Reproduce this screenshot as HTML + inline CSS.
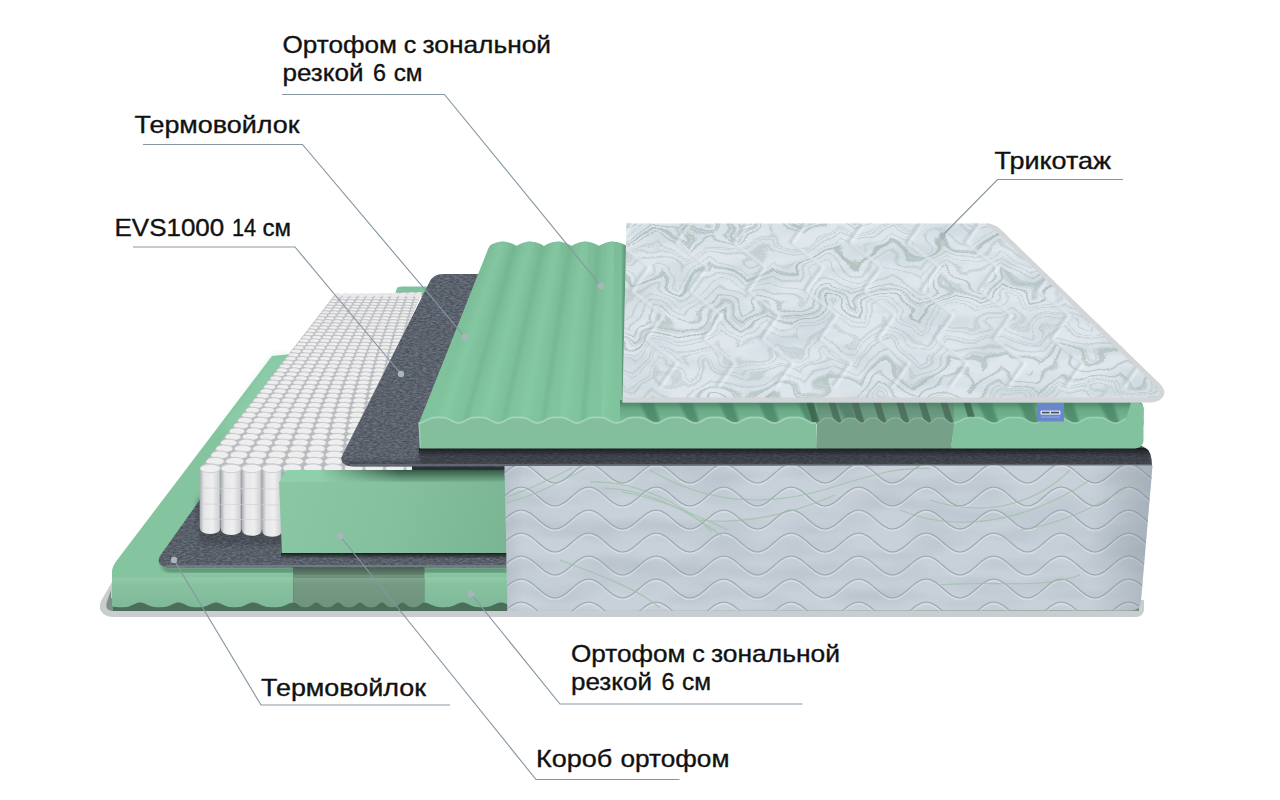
<!DOCTYPE html>
<html lang="ru"><head><meta charset="utf-8"><title>Матрас — состав</title>
<style>
html,body{margin:0;padding:0;background:#fff;}
body{width:1280px;height:800px;overflow:hidden;font-family:"Liberation Sans",sans-serif;}
svg{display:block;}
text{font-family:"Liberation Sans",sans-serif;fill:#111;}
</style></head><body>
<svg width="1280" height="800" viewBox="0 0 1280 800">
<defs>
<filter id="noise" color-interpolation-filters="sRGB" x="0" y="0" width="100%" height="100%">
  <feTurbulence type="fractalNoise" baseFrequency="0.3 0.75" numOctaves="3" seed="4"/>
  <feColorMatrix type="matrix" values="0 0 0 0 0.12  0 0 0 0 0.14  0 0 0 0 0.17  2.2 0 0 0 -0.75"/>
  <feComposite in2="SourceGraphic" operator="in"/>
</filter>
<filter id="noiseL" color-interpolation-filters="sRGB" x="0" y="0" width="100%" height="100%">
  <feTurbulence type="fractalNoise" baseFrequency="0.22 0.6" numOctaves="3" seed="21"/>
  <feColorMatrix type="matrix" values="0 0 0 0 0.62  0 0 0 0 0.66  0 0 0 0 0.71  2.4 0 0 0 -0.95"/>
  <feComposite in2="SourceGraphic" operator="in"/>
</filter>
<filter id="grain" color-interpolation-filters="sRGB" x="0" y="0" width="100%" height="100%">
  <feTurbulence type="fractalNoise" baseFrequency="0.9" numOctaves="2" seed="9"/>
  <feColorMatrix type="matrix" values="0 0 0 0 1  0 0 0 0 1  0 0 0 0 1  1.2 0 0 0 -0.5"/>
  <feComposite in2="SourceGraphic" operator="in"/>
</filter>
<filter id="fKnitA" color-interpolation-filters="sRGB" x="0" y="0" width="100%" height="100%">
  <feTurbulence type="fractalNoise" baseFrequency="0.018 0.045" numOctaves="3" seed="11"/>
  <feColorMatrix type="matrix" values="0 0 0 0 0.68  0 0 0 0 0.75  0 0 0 0 0.77  2.6 0 0 0 -1.0"/>
  <feComposite in2="SourceGraphic" operator="in"/>
</filter>
<filter id="fKnitB" x="-5%" y="-20%" width="110%" height="140%">
  <feTurbulence type="fractalNoise" baseFrequency="0.02 0.035" numOctaves="2" seed="7" result="t"/>
  <feDisplacementMap in="SourceGraphic" in2="t" scale="42" xChannelSelector="R" yChannelSelector="G"/><feGaussianBlur stdDeviation="0.55"/>
</filter>
<filter id="fSideA" color-interpolation-filters="sRGB" x="0" y="0" width="100%" height="100%">
  <feTurbulence type="fractalNoise" baseFrequency="0.012 0.05" numOctaves="2" seed="3"/>
  <feColorMatrix type="matrix" values="0 0 0 0 0.55  0 0 0 0 0.6  0 0 0 0 0.66  2.4 0 0 0 -0.95"/>
  <feComposite in2="SourceGraphic" operator="in"/>
</filter>
<filter id="b05"><feGaussianBlur stdDeviation="0.5"/></filter>
<filter id="b1"><feGaussianBlur stdDeviation="1"/></filter>
<filter id="b2"><feGaussianBlur stdDeviation="2.2"/></filter>
<filter id="b3"><feGaussianBlur stdDeviation="3.5"/></filter>
<linearGradient id="gFront1" x1="0" y1="577" x2="0" y2="607" gradientUnits="userSpaceOnUse">
  <stop offset="0" stop-color="#93cbab"/><stop offset=".25" stop-color="#87c2a0"/><stop offset="1" stop-color="#80b999"/>
</linearGradient>
<linearGradient id="gFrontD" x1="0" y1="577" x2="0" y2="607" gradientUnits="userSpaceOnUse">
  <stop offset="0" stop-color="#83a892"/><stop offset=".25" stop-color="#759a84"/><stop offset="1" stop-color="#6f937d"/>
</linearGradient>
<linearGradient id="gSliver" x1="0" y1="567" x2="0" y2="578" gradientUnits="userSpaceOnUse">
  <stop offset="0" stop-color="#27392f" stop-opacity=".6"/><stop offset="1" stop-color="#27392f" stop-opacity="0"/>
</linearGradient>
<linearGradient id="gBoxTopSh" x1="0" y1="470" x2="0" y2="483" gradientUnits="userSpaceOnUse">
  <stop offset="0" stop-color="#1f3a2b" stop-opacity=".8"/><stop offset="1" stop-color="#1f3a2b" stop-opacity=".15"/>
</linearGradient>
<linearGradient id="gBoxTopShX" x1="285" y1="0" x2="400" y2="0" gradientUnits="userSpaceOnUse">
  <stop offset="0" stop-color="#fff" stop-opacity="0"/><stop offset=".3" stop-color="#fff" stop-opacity=".0"/><stop offset="1" stop-color="#fff" stop-opacity="1"/>
</linearGradient>
<mask id="mBoxTop"><rect x="270" y="460" width="250" height="30" fill="url(#gBoxTopShX)"/></mask>
<linearGradient id="gSideR" x1="504" y1="0" x2="1153" y2="0" gradientUnits="userSpaceOnUse">
  <stop offset="0" stop-color="#6c7883" stop-opacity=".14"/><stop offset=".03" stop-color="#6c7883" stop-opacity="0"/><stop offset=".9" stop-color="#6c7883" stop-opacity="0"/><stop offset="1" stop-color="#6c7883" stop-opacity=".32"/>
</linearGradient>
<linearGradient id="gCol" x1="0" y1="0" x2="1" y2="0">
  <stop offset="0" stop-color="#a9abaf"/><stop offset=".2" stop-color="#e6e6e8"/><stop offset=".6" stop-color="#efeff0"/><stop offset=".9" stop-color="#d2d3d6"/><stop offset="1" stop-color="#9d9fa3"/>
</linearGradient>
<linearGradient id="gBox" x1="282" y1="483" x2="505" y2="553" gradientUnits="userSpaceOnUse">
  <stop offset="0" stop-color="#8ac7a5"/><stop offset=".5" stop-color="#84c09e"/><stop offset="1" stop-color="#79b493"/>
</linearGradient>
<linearGradient id="gFeltSh" x1="0" y1="0" x2="0" y2="1">
  <stop offset="0" stop-color="#15181b" stop-opacity=".95"/><stop offset="1" stop-color="#15181b" stop-opacity="0"/>
</linearGradient>
<linearGradient id="gGroove" x1="0" y1="402" x2="0" y2="424" gradientUnits="userSpaceOnUse">
  <stop offset="0" stop-color="#4a8868"/><stop offset=".35" stop-color="#69a987"/><stop offset="1" stop-color="#7bbd9a"/>
</linearGradient>
<linearGradient id="gTopFace" x1="0" y1="245" x2="0" y2="424" gradientUnits="userSpaceOnUse">
  <stop offset="0" stop-color="#7cbd98"/><stop offset="1" stop-color="#80c49e"/>
</linearGradient>
<pattern id="pWave" width="67.5" height="23.0" patternUnits="userSpaceOnUse" patternTransform="translate(521.2,462.0)">
  <path d="M-33.8,22.6 C-21.5,22.6 -12.3,3.6 0.0,3.6 C12.3,3.6 21.5,22.6 33.8,22.6 C46.0,22.6 55.2,3.6 67.5,3.6 C79.8,3.6 89.0,22.6 101.2,22.6 " fill="none" stroke="#d9e0e6" stroke-width="1.6" opacity=".75"/>
  <path d="M-33.8,21.0 C-21.5,21.0 -12.3,2.0 0.0,2.0 C12.3,2.0 21.5,21.0 33.8,21.0 C46.0,21.0 55.2,2.0 67.5,2.0 C79.8,2.0 89.0,21.0 101.2,21.0 " fill="none" stroke="#9aa5ae" stroke-width="1.2"/>
</pattern>
<clipPath id="cSpr"><polygon points="334,295 422,292 346,460 418,460 418,472 200,472 200,469"/></clipPath>
<clipPath id="cFelt2"><path d="M443,274 L492,274 L492,448 L1138,445 Q1150,447 1151.5,459 L1152,466.5 L352,466.5 Q337,464.5 343,454 L429.5,282 Q433.5,274 443,274 Z"/></clipPath>
<clipPath id="cKnit"><path d="M626.5,223.5 L986,223.5 Q994,223.5 1000,229 L1160,384 Q1167.5,392 1162,398 Q1158,402.5 1148,402.5 L622.5,402.5 Z"/></clipPath>
<clipPath id="cSide"><path d="M504.5,466 L1152.5,465.5 L1141,601 Q1140,610.5 1131,610.5 L507.5,611 Z"/></clipPath>
<clipPath id="cTopFace"><polygon points="418.5,424.0 488.5,248.0 490.0,245.4 491.5,244.5 493.0,243.8 494.5,243.2 496.0,242.7 497.5,242.3 499.0,241.9 500.5,241.7 502.0,241.6 503.5,241.6 505.0,241.7 506.5,241.9 508.0,242.3 509.5,242.7 511.0,243.2 512.5,243.8 514.0,244.5 515.5,245.4 517.0,245.7 518.5,244.8 520.0,244.0 521.5,243.4 523.0,242.8 524.5,242.4 526.0,242.0 527.5,241.8 529.0,241.6 530.5,241.6 532.0,241.7 533.5,241.9 535.0,242.1 536.5,242.5 538.0,243.0 539.5,243.6 541.0,244.3 542.5,245.1 544.0,246.2 545.5,245.1 547.0,244.3 548.5,243.6 550.0,243.0 551.5,242.5 553.0,242.1 554.5,241.9 556.0,241.7 557.5,241.6 559.0,241.6 560.5,241.8 562.0,242.0 563.5,242.4 565.0,242.8 566.5,243.4 568.0,244.0 569.5,244.8 571.0,245.7 572.5,245.4 574.0,244.5 575.5,243.8 577.0,243.2 578.5,242.7 580.0,242.3 581.5,241.9 583.0,241.7 584.5,241.6 586.0,241.6 587.5,241.7 589.0,241.9 590.5,242.3 592.0,242.7 593.5,243.2 595.0,243.8 596.5,244.5 598.0,245.4 599.5,245.7 601.0,244.8 602.5,244.0 604.0,243.4 605.5,242.8 607.0,242.4 608.5,242.0 610.0,241.8 611.5,241.6 613.0,241.6 614.5,241.7 616.0,241.9 617.5,242.1 619.0,242.5 620.5,243.0 622.0,243.6 623.5,244.3 625.0,245.1 627.0,247.0 627.0,424.0"/></clipPath>
<clipPath id="cGroove"><path d="M620,400 L1138,400 Q1143.5,403 1143.5,410 L1143.5,424 L620,424 Z"/></clipPath>
</defs>
<rect width="1280" height="800" fill="#fff"/>

<path d="M112,582 L101,601 Q98,609 103,613.5 Q107,617 114,617 L1136,617 Q1143,617 1144,610 L1144,600 L112,596 Z" fill="#c9cdd0"/>
<path d="M111,590 L106.5,603 Q105,610.5 113,611 L1139,611 L1139,598 L111,598 Z" fill="#7d8f86"/>
<path d="M272,356 L292,354 L300,360 L300,560 L508,560 L508,579 L112,579 L112,574 Q111.5,567.5 116,561.5 Z" fill="#84c5a0"/>
<path d="M272,356 L292,354 L300,360 L300,430 L220,430 Z" fill="#9ad6b4" opacity=".35" filter="url(#b3)"/>
<path d="M163,563 Q165,568.5 172,568.5 L508,568.5 L508,572 L170,572 Q160,570 163,563 Z" fill="#1f3328" opacity=".55" filter="url(#b2)"/>
<rect x="113" y="596" width="394" height="15" fill="#4b6e5a"/>
<path d="M112,578 L294,577.5 L294.0,602.5 L293.0,602.5 L292.0,602.7 L291.0,602.9 L290.0,603.2 L289.0,603.6 L288.0,604.0 L287.0,604.5 L286.0,604.9 L285.0,605.4 L284.0,605.8 L283.0,606.1 L282.0,606.4 L281.0,606.7 L280.0,606.9 L279.0,607.0 L278.0,607.1 L277.0,607.2 L276.0,607.2 L275.0,607.2 L274.0,607.2 L273.0,607.2 L272.0,607.2 L271.0,607.2 L270.0,607.2 L269.0,607.1 L268.0,607.0 L267.0,606.9 L266.0,606.7 L265.0,606.4 L264.0,606.1 L263.0,605.8 L262.0,605.4 L261.0,604.9 L260.0,604.5 L259.0,604.0 L258.0,603.6 L257.0,603.2 L256.0,602.9 L255.0,602.7 L254.0,602.5 L253.0,602.5 L252.0,602.6 L251.0,602.7 L250.0,603.0 L249.0,603.4 L248.0,603.8 L247.0,604.3 L246.0,604.8 L245.0,605.3 L244.0,605.7 L243.0,606.1 L242.0,606.5 L241.0,606.7 L240.0,606.9 L239.0,607.1 L238.0,607.1 L237.0,607.2 L236.0,607.2 L235.0,607.2 L234.0,607.2 L233.0,607.2 L232.0,607.2 L231.0,607.1 L230.0,607.1 L229.0,606.9 L228.0,606.7 L227.0,606.5 L226.0,606.1 L225.0,605.7 L224.0,605.3 L223.0,604.8 L222.0,604.3 L221.0,603.8 L220.0,603.4 L219.0,603.0 L218.0,602.7 L217.0,602.6 L216.0,602.5 L215.0,602.6 L214.0,602.7 L213.0,603.0 L212.0,603.4 L211.0,603.8 L210.0,604.3 L209.0,604.8 L208.0,605.2 L207.0,605.7 L206.0,606.1 L205.0,606.4 L204.0,606.7 L203.0,606.9 L202.0,607.0 L201.0,607.1 L200.0,607.2 L199.0,607.2 L198.0,607.2 L197.0,607.2 L196.0,607.2 L195.0,607.2 L194.0,607.2 L193.0,607.1 L192.0,607.0 L191.0,606.8 L190.0,606.6 L189.0,606.3 L188.0,605.9 L187.0,605.5 L186.0,605.0 L185.0,604.5 L184.0,604.0 L183.0,603.6 L182.0,603.2 L181.0,602.9 L180.0,602.6 L179.0,602.5 L178.0,602.5 L177.0,602.6 L176.0,602.8 L175.0,603.2 L174.0,603.5 L173.0,604.0 L172.0,604.4 L171.0,604.9 L170.0,605.4 L169.0,605.8 L168.0,606.2 L167.0,606.5 L166.0,606.7 L165.0,606.9 L164.0,607.1 L163.0,607.1 L162.0,607.2 L161.0,607.2 L160.0,607.2 L159.0,607.2 L158.0,607.2 L157.0,607.2 L156.0,607.2 L155.0,607.1 L154.0,607.0 L153.0,606.8 L152.0,606.6 L151.0,606.3 L150.0,606.0 L149.0,605.6 L148.0,605.1 L147.0,604.7 L146.0,604.2 L145.0,603.7 L144.0,603.3 L143.0,603.0 L142.0,602.7 L141.0,602.6 L140.0,602.5 L139.0,602.6 L138.0,602.7 L137.0,603.0 L136.0,603.4 L135.0,603.8 L134.0,604.2 L133.0,604.7 L132.0,605.2 L131.0,605.6 L130.0,606.0 L129.0,606.4 L128.0,606.7 L127.0,606.9 L126.0,607.0 L125.0,607.1 L124.0,607.2 L123.0,607.2 L122.0,607.2 L121.0,607.2 L120.0,607.2 L119.0,607.2 L118.0,607.2 L117.0,607.1 L116.0,607.0 L115.0,606.9 L114.0,606.7 L113.0,606.4 L112.0,606.0 Z" fill="url(#gFront1)"/>
<polygon points="293.0,577.5 425.0,577.5 425.0,602.7 424.0,602.5 423.0,602.7 422.0,603.2 421.0,603.9 420.0,604.8 419.0,605.6 418.0,606.3 417.0,606.8 416.0,607.0 415.0,607.2 414.0,607.2 413.0,607.2 412.0,607.2 411.0,607.1 410.0,606.9 409.0,606.5 408.0,605.9 407.0,605.2 406.0,604.3 405.0,603.5 404.0,602.9 403.0,602.5 402.0,602.5 401.0,602.9 400.0,603.6 399.0,604.5 398.0,605.4 397.0,606.1 396.0,606.7 395.0,607.0 394.0,607.2 393.0,607.2 392.0,607.2 391.0,607.2 390.0,607.1 389.0,606.9 388.0,606.4 387.0,605.8 386.0,604.9 385.0,604.0 384.0,603.2 383.0,602.7 382.0,602.5 381.0,602.7 380.0,603.2 379.0,603.9 378.0,604.7 377.0,605.5 376.0,606.2 375.0,606.7 374.0,607.0 373.0,607.2 372.0,607.2 371.0,607.2 370.0,607.2 369.0,607.2 368.0,607.0 367.0,606.7 366.0,606.2 365.0,605.5 364.0,604.7 363.0,603.9 362.0,603.2 361.0,602.7 360.0,602.5 359.0,602.7 358.0,603.2 357.0,603.9 356.0,604.7 355.0,605.5 354.0,606.2 353.0,606.7 352.0,607.0 351.0,607.2 350.0,607.2 349.0,607.2 348.0,607.2 347.0,607.2 346.0,607.0 345.0,606.7 344.0,606.2 343.0,605.5 342.0,604.7 341.0,603.9 340.0,603.2 339.0,602.7 338.0,602.5 337.0,602.7 336.0,603.2 335.0,603.9 334.0,604.7 333.0,605.6 332.0,606.2 331.0,606.7 330.0,607.0 329.0,607.2 328.0,607.2 327.0,607.2 326.0,607.2 325.0,607.1 324.0,606.9 323.0,606.6 322.0,606.0 321.0,605.2 320.0,604.4 319.0,603.6 318.0,602.9 317.0,602.6 316.0,602.5 315.0,602.8 314.0,603.4 313.0,604.1 312.0,604.9 311.0,605.7 310.0,606.3 309.0,606.8 308.0,607.1 307.0,607.2 306.0,607.2 305.0,607.2 304.0,607.2 303.0,607.1 302.0,607.0 301.0,606.6 300.0,606.1 299.0,605.4 298.0,604.6 297.0,603.8 296.0,603.1 295.0,602.7 294.0,602.5 293.0,602.7" fill="url(#gFrontD)"/>
<rect x="293" y="567" width="131.5" height="11" fill="#6f927d"/>
<rect x="293" y="567" width="131.5" height="8" fill="url(#gSliver)"/>
<polygon points="424.0,577.5 508.0,577.5 508.0,604.6 507.0,604.2 506.0,603.7 505.0,603.3 504.0,603.0 503.0,602.7 502.0,602.6 501.0,602.5 500.0,602.6 499.0,602.7 498.0,603.0 497.0,603.3 496.0,603.7 495.0,604.2 494.0,604.7 493.0,605.1 492.0,605.6 491.0,606.0 490.0,606.3 489.0,606.6 488.0,606.8 487.0,607.0 486.0,607.1 485.0,607.2 484.0,607.2 483.0,607.2 482.0,607.2 481.0,607.2 480.0,607.2 479.0,607.2 478.0,607.1 477.0,607.1 476.0,606.9 475.0,606.7 474.0,606.5 473.0,606.2 472.0,605.8 471.0,605.4 470.0,604.9 469.0,604.4 468.0,604.0 467.0,603.5 466.0,603.2 465.0,602.8 464.0,602.6 463.0,602.5 462.0,602.5 461.0,602.6 460.0,602.8 459.0,603.2 458.0,603.5 457.0,604.0 456.0,604.4 455.0,604.9 454.0,605.4 453.0,605.8 452.0,606.2 451.0,606.5 450.0,606.7 449.0,606.9 448.0,607.1 447.0,607.1 446.0,607.2 445.0,607.2 444.0,607.2 443.0,607.2 442.0,607.2 441.0,607.2 440.0,607.2 439.0,607.1 438.0,607.0 437.0,606.8 436.0,606.6 435.0,606.3 434.0,606.0 433.0,605.6 432.0,605.1 431.0,604.7 430.0,604.2 429.0,603.7 428.0,603.3 427.0,603.0 426.0,602.7 425.0,602.6 424.0,602.5" fill="url(#gFront1)"/>
<path d="M117,578 L508,578" stroke="#a9d9c0" stroke-width="1.6" fill="none" opacity=".55" filter="url(#b05)"/>
<path d="M293.5,578 L293.5,603 M424.5,578 L424.5,603" stroke="#5f8470" stroke-width="1" opacity=".5" fill="none"/>
<path d="M204,494 L290,494 L290,552 L507,552 L507,567.5 L168,567.5 Q155,565.5 160,556 Z" fill="#5b626c"/>
<path d="M204,494 L290,494 L290,552 L507,552 L507,567.5 L168,567.5 Q155,565.5 160,556 Z" fill="#000" filter="url(#noise)" opacity=".38"/>
<path d="M204,494 L290,494 L290,552 L507,552 L507,567.5 L168,567.5 Q155,565.5 160,556 Z" fill="#000" filter="url(#noiseL)" opacity=".32"/>
<path d="M166,566 L507,566" stroke="#747c85" stroke-width="2" fill="none" opacity=".9"/>
<rect x="281" y="553" width="226" height="6" fill="url(#gFeltSh)"/>
<path d="M196,500 L204,494 L290,494 L290,545 L200,545 Z" fill="#1f2328" opacity=".25" filter="url(#b2)"/>
<path d="M397,288 Q398,286.5 402,286.5 L428,286.5 L424,297 L394,297 Z" fill="#80c29d"/>
<polygon points="334,296 422,293 346,460 418,460 418,472 200,472 200,469" fill="#b9bbbf"/>
<g clip-path="url(#cSpr)">
<g fill="#eeeeef" stroke="#bcbec2" stroke-width=".8"><ellipse cx="341.9" cy="290.5" rx="3.7" ry="1.6"/><ellipse cx="349.8" cy="290.5" rx="3.7" ry="1.6"/><ellipse cx="357.6" cy="290.5" rx="3.7" ry="1.6"/><ellipse cx="365.5" cy="290.5" rx="3.7" ry="1.6"/><ellipse cx="373.4" cy="290.5" rx="3.7" ry="1.6"/><ellipse cx="381.3" cy="290.5" rx="3.7" ry="1.6"/><ellipse cx="389.2" cy="290.5" rx="3.7" ry="1.6"/><ellipse cx="397.0" cy="290.5" rx="3.7" ry="1.6"/><ellipse cx="404.9" cy="290.5" rx="3.7" ry="1.6"/><ellipse cx="412.8" cy="290.5" rx="3.7" ry="1.6"/><ellipse cx="420.7" cy="290.5" rx="3.7" ry="1.6"/><ellipse cx="428.6" cy="290.5" rx="3.7" ry="1.6"/><ellipse cx="339.9" cy="293.2" rx="3.8" ry="1.6"/><ellipse cx="347.9" cy="293.2" rx="3.8" ry="1.6"/><ellipse cx="355.9" cy="293.2" rx="3.8" ry="1.6"/><ellipse cx="363.9" cy="293.2" rx="3.8" ry="1.6"/><ellipse cx="371.9" cy="293.2" rx="3.8" ry="1.6"/><ellipse cx="379.9" cy="293.2" rx="3.8" ry="1.6"/><ellipse cx="387.9" cy="293.2" rx="3.8" ry="1.6"/><ellipse cx="395.8" cy="293.2" rx="3.8" ry="1.6"/><ellipse cx="403.8" cy="293.2" rx="3.8" ry="1.6"/><ellipse cx="411.8" cy="293.2" rx="3.8" ry="1.6"/><ellipse cx="419.8" cy="293.2" rx="3.8" ry="1.6"/><ellipse cx="427.8" cy="293.2" rx="3.8" ry="1.6"/><ellipse cx="337.9" cy="295.8" rx="3.8" ry="1.6"/><ellipse cx="346.0" cy="295.8" rx="3.8" ry="1.6"/><ellipse cx="354.1" cy="295.8" rx="3.8" ry="1.6"/><ellipse cx="362.2" cy="295.8" rx="3.8" ry="1.6"/><ellipse cx="370.3" cy="295.8" rx="3.8" ry="1.6"/><ellipse cx="378.4" cy="295.8" rx="3.8" ry="1.6"/><ellipse cx="386.6" cy="295.8" rx="3.8" ry="1.6"/><ellipse cx="394.7" cy="295.8" rx="3.8" ry="1.6"/><ellipse cx="402.8" cy="295.8" rx="3.8" ry="1.6"/><ellipse cx="410.9" cy="295.8" rx="3.8" ry="1.6"/><ellipse cx="419.0" cy="295.8" rx="3.8" ry="1.6"/><ellipse cx="427.1" cy="295.8" rx="3.8" ry="1.6"/><ellipse cx="335.9" cy="298.5" rx="3.9" ry="1.7"/><ellipse cx="344.1" cy="298.5" rx="3.9" ry="1.7"/><ellipse cx="352.3" cy="298.5" rx="3.9" ry="1.7"/><ellipse cx="360.6" cy="298.5" rx="3.9" ry="1.7"/><ellipse cx="368.8" cy="298.5" rx="3.9" ry="1.7"/><ellipse cx="377.0" cy="298.5" rx="3.9" ry="1.7"/><ellipse cx="385.2" cy="298.5" rx="3.9" ry="1.7"/><ellipse cx="393.5" cy="298.5" rx="3.9" ry="1.7"/><ellipse cx="401.7" cy="298.5" rx="3.9" ry="1.7"/><ellipse cx="409.9" cy="298.5" rx="3.9" ry="1.7"/><ellipse cx="418.1" cy="298.5" rx="3.9" ry="1.7"/><ellipse cx="426.4" cy="298.5" rx="3.9" ry="1.7"/><ellipse cx="333.8" cy="301.2" rx="3.9" ry="1.7"/><ellipse cx="342.2" cy="301.2" rx="3.9" ry="1.7"/><ellipse cx="350.5" cy="301.2" rx="3.9" ry="1.7"/><ellipse cx="358.9" cy="301.2" rx="3.9" ry="1.7"/><ellipse cx="367.2" cy="301.2" rx="3.9" ry="1.7"/><ellipse cx="375.6" cy="301.2" rx="3.9" ry="1.7"/><ellipse cx="383.9" cy="301.2" rx="3.9" ry="1.7"/><ellipse cx="392.3" cy="301.2" rx="3.9" ry="1.7"/><ellipse cx="400.6" cy="301.2" rx="3.9" ry="1.7"/><ellipse cx="409.0" cy="301.2" rx="3.9" ry="1.7"/><ellipse cx="417.3" cy="301.2" rx="3.9" ry="1.7"/><ellipse cx="425.7" cy="301.2" rx="3.9" ry="1.7"/><ellipse cx="331.8" cy="304.0" rx="4.0" ry="1.7"/><ellipse cx="340.2" cy="304.0" rx="4.0" ry="1.7"/><ellipse cx="348.7" cy="304.0" rx="4.0" ry="1.7"/><ellipse cx="357.2" cy="304.0" rx="4.0" ry="1.7"/><ellipse cx="365.6" cy="304.0" rx="4.0" ry="1.7"/><ellipse cx="374.1" cy="304.0" rx="4.0" ry="1.7"/><ellipse cx="382.6" cy="304.0" rx="4.0" ry="1.7"/><ellipse cx="391.1" cy="304.0" rx="4.0" ry="1.7"/><ellipse cx="399.5" cy="304.0" rx="4.0" ry="1.7"/><ellipse cx="408.0" cy="304.0" rx="4.0" ry="1.7"/><ellipse cx="416.5" cy="304.0" rx="4.0" ry="1.7"/><ellipse cx="425.0" cy="304.0" rx="4.0" ry="1.7"/><ellipse cx="329.6" cy="306.8" rx="4.0" ry="1.7"/><ellipse cx="338.2" cy="306.8" rx="4.0" ry="1.7"/><ellipse cx="346.8" cy="306.8" rx="4.0" ry="1.7"/><ellipse cx="355.4" cy="306.8" rx="4.0" ry="1.7"/><ellipse cx="364.0" cy="306.8" rx="4.0" ry="1.7"/><ellipse cx="372.6" cy="306.8" rx="4.0" ry="1.7"/><ellipse cx="381.3" cy="306.8" rx="4.0" ry="1.7"/><ellipse cx="389.9" cy="306.8" rx="4.0" ry="1.7"/><ellipse cx="398.5" cy="306.8" rx="4.0" ry="1.7"/><ellipse cx="407.1" cy="306.8" rx="4.0" ry="1.7"/><ellipse cx="415.7" cy="306.8" rx="4.0" ry="1.7"/><ellipse cx="424.3" cy="306.8" rx="4.0" ry="1.7"/><ellipse cx="327.5" cy="309.6" rx="4.1" ry="1.8"/><ellipse cx="336.2" cy="309.6" rx="4.1" ry="1.8"/><ellipse cx="345.0" cy="309.6" rx="4.1" ry="1.8"/><ellipse cx="353.7" cy="309.6" rx="4.1" ry="1.8"/><ellipse cx="362.4" cy="309.6" rx="4.1" ry="1.8"/><ellipse cx="371.2" cy="309.6" rx="4.1" ry="1.8"/><ellipse cx="379.9" cy="309.6" rx="4.1" ry="1.8"/><ellipse cx="388.6" cy="309.6" rx="4.1" ry="1.8"/><ellipse cx="397.4" cy="309.6" rx="4.1" ry="1.8"/><ellipse cx="406.1" cy="309.6" rx="4.1" ry="1.8"/><ellipse cx="414.8" cy="309.6" rx="4.1" ry="1.8"/><ellipse cx="423.6" cy="309.6" rx="4.1" ry="1.8"/><ellipse cx="325.3" cy="312.5" rx="4.2" ry="1.8"/><ellipse cx="334.2" cy="312.5" rx="4.2" ry="1.8"/><ellipse cx="343.1" cy="312.5" rx="4.2" ry="1.8"/><ellipse cx="351.9" cy="312.5" rx="4.2" ry="1.8"/><ellipse cx="360.8" cy="312.5" rx="4.2" ry="1.8"/><ellipse cx="369.7" cy="312.5" rx="4.2" ry="1.8"/><ellipse cx="378.6" cy="312.5" rx="4.2" ry="1.8"/><ellipse cx="387.4" cy="312.5" rx="4.2" ry="1.8"/><ellipse cx="396.3" cy="312.5" rx="4.2" ry="1.8"/><ellipse cx="405.2" cy="312.5" rx="4.2" ry="1.8"/><ellipse cx="414.0" cy="312.5" rx="4.2" ry="1.8"/><ellipse cx="422.9" cy="312.5" rx="4.2" ry="1.8"/><ellipse cx="323.1" cy="315.4" rx="4.2" ry="1.8"/><ellipse cx="332.1" cy="315.4" rx="4.2" ry="1.8"/><ellipse cx="341.1" cy="315.4" rx="4.2" ry="1.8"/><ellipse cx="350.2" cy="315.4" rx="4.2" ry="1.8"/><ellipse cx="359.2" cy="315.4" rx="4.2" ry="1.8"/><ellipse cx="368.2" cy="315.4" rx="4.2" ry="1.8"/><ellipse cx="377.2" cy="315.4" rx="4.2" ry="1.8"/><ellipse cx="386.2" cy="315.4" rx="4.2" ry="1.8"/><ellipse cx="395.2" cy="315.4" rx="4.2" ry="1.8"/><ellipse cx="404.2" cy="315.4" rx="4.2" ry="1.8"/><ellipse cx="413.3" cy="315.4" rx="4.2" ry="1.8"/><ellipse cx="422.3" cy="315.4" rx="4.2" ry="1.8"/><ellipse cx="320.9" cy="318.4" rx="4.3" ry="1.9"/><ellipse cx="330.0" cy="318.4" rx="4.3" ry="1.9"/><ellipse cx="339.2" cy="318.4" rx="4.3" ry="1.9"/><ellipse cx="348.3" cy="318.4" rx="4.3" ry="1.9"/><ellipse cx="357.5" cy="318.4" rx="4.3" ry="1.9"/><ellipse cx="366.7" cy="318.4" rx="4.3" ry="1.9"/><ellipse cx="375.8" cy="318.4" rx="4.3" ry="1.9"/><ellipse cx="385.0" cy="318.4" rx="4.3" ry="1.9"/><ellipse cx="394.2" cy="318.4" rx="4.3" ry="1.9"/><ellipse cx="403.3" cy="318.4" rx="4.3" ry="1.9"/><ellipse cx="412.5" cy="318.4" rx="4.3" ry="1.9"/><ellipse cx="421.6" cy="318.4" rx="4.3" ry="1.9"/><ellipse cx="318.6" cy="321.5" rx="4.4" ry="1.9"/><ellipse cx="327.9" cy="321.5" rx="4.4" ry="1.9"/><ellipse cx="337.2" cy="321.5" rx="4.4" ry="1.9"/><ellipse cx="346.5" cy="321.5" rx="4.4" ry="1.9"/><ellipse cx="355.8" cy="321.5" rx="4.4" ry="1.9"/><ellipse cx="365.1" cy="321.5" rx="4.4" ry="1.9"/><ellipse cx="374.5" cy="321.5" rx="4.4" ry="1.9"/><ellipse cx="383.8" cy="321.5" rx="4.4" ry="1.9"/><ellipse cx="393.1" cy="321.5" rx="4.4" ry="1.9"/><ellipse cx="402.4" cy="321.5" rx="4.4" ry="1.9"/><ellipse cx="411.7" cy="321.5" rx="4.4" ry="1.9"/><ellipse cx="421.0" cy="321.5" rx="4.4" ry="1.9"/><ellipse cx="316.3" cy="324.6" rx="4.5" ry="1.9"/><ellipse cx="325.7" cy="324.6" rx="4.5" ry="1.9"/><ellipse cx="335.2" cy="324.6" rx="4.5" ry="1.9"/><ellipse cx="344.7" cy="324.6" rx="4.5" ry="1.9"/><ellipse cx="354.1" cy="324.6" rx="4.5" ry="1.9"/><ellipse cx="363.6" cy="324.6" rx="4.5" ry="1.9"/><ellipse cx="373.1" cy="324.6" rx="4.5" ry="1.9"/><ellipse cx="382.5" cy="324.6" rx="4.5" ry="1.9"/><ellipse cx="392.0" cy="324.6" rx="4.5" ry="1.9"/><ellipse cx="401.5" cy="324.6" rx="4.5" ry="1.9"/><ellipse cx="411.0" cy="324.6" rx="4.5" ry="1.9"/><ellipse cx="420.4" cy="324.6" rx="4.5" ry="1.9"/><ellipse cx="313.9" cy="327.7" rx="4.5" ry="2.0"/><ellipse cx="323.5" cy="327.7" rx="4.5" ry="2.0"/><ellipse cx="333.2" cy="327.7" rx="4.5" ry="2.0"/><ellipse cx="342.8" cy="327.7" rx="4.5" ry="2.0"/><ellipse cx="352.4" cy="327.7" rx="4.5" ry="2.0"/><ellipse cx="362.1" cy="327.7" rx="4.5" ry="2.0"/><ellipse cx="371.7" cy="327.7" rx="4.5" ry="2.0"/><ellipse cx="381.3" cy="327.7" rx="4.5" ry="2.0"/><ellipse cx="391.0" cy="327.7" rx="4.5" ry="2.0"/><ellipse cx="400.6" cy="327.7" rx="4.5" ry="2.0"/><ellipse cx="410.2" cy="327.7" rx="4.5" ry="2.0"/><ellipse cx="311.5" cy="330.9" rx="4.6" ry="2.0"/><ellipse cx="321.3" cy="330.9" rx="4.6" ry="2.0"/><ellipse cx="331.1" cy="330.9" rx="4.6" ry="2.0"/><ellipse cx="340.9" cy="330.9" rx="4.6" ry="2.0"/><ellipse cx="350.7" cy="330.9" rx="4.6" ry="2.0"/><ellipse cx="360.5" cy="330.9" rx="4.6" ry="2.0"/><ellipse cx="370.3" cy="330.9" rx="4.6" ry="2.0"/><ellipse cx="380.1" cy="330.9" rx="4.6" ry="2.0"/><ellipse cx="389.9" cy="330.9" rx="4.6" ry="2.0"/><ellipse cx="399.7" cy="330.9" rx="4.6" ry="2.0"/><ellipse cx="409.5" cy="330.9" rx="4.6" ry="2.0"/><ellipse cx="309.1" cy="334.1" rx="4.7" ry="2.0"/><ellipse cx="319.0" cy="334.1" rx="4.7" ry="2.0"/><ellipse cx="329.0" cy="334.1" rx="4.7" ry="2.0"/><ellipse cx="339.0" cy="334.1" rx="4.7" ry="2.0"/><ellipse cx="349.0" cy="334.1" rx="4.7" ry="2.0"/><ellipse cx="358.9" cy="334.1" rx="4.7" ry="2.0"/><ellipse cx="368.9" cy="334.1" rx="4.7" ry="2.0"/><ellipse cx="378.9" cy="334.1" rx="4.7" ry="2.0"/><ellipse cx="388.8" cy="334.1" rx="4.7" ry="2.0"/><ellipse cx="398.8" cy="334.1" rx="4.7" ry="2.0"/><ellipse cx="408.8" cy="334.1" rx="4.7" ry="2.0"/><ellipse cx="306.6" cy="337.5" rx="4.8" ry="2.1"/><ellipse cx="316.7" cy="337.5" rx="4.8" ry="2.1"/><ellipse cx="326.9" cy="337.5" rx="4.8" ry="2.1"/><ellipse cx="337.0" cy="337.5" rx="4.8" ry="2.1"/><ellipse cx="347.2" cy="337.5" rx="4.8" ry="2.1"/><ellipse cx="357.4" cy="337.5" rx="4.8" ry="2.1"/><ellipse cx="367.5" cy="337.5" rx="4.8" ry="2.1"/><ellipse cx="377.7" cy="337.5" rx="4.8" ry="2.1"/><ellipse cx="387.8" cy="337.5" rx="4.8" ry="2.1"/><ellipse cx="398.0" cy="337.5" rx="4.8" ry="2.1"/><ellipse cx="408.1" cy="337.5" rx="4.8" ry="2.1"/><ellipse cx="304.1" cy="340.8" rx="4.9" ry="2.1"/><ellipse cx="314.4" cy="340.8" rx="4.9" ry="2.1"/><ellipse cx="324.7" cy="340.8" rx="4.9" ry="2.1"/><ellipse cx="335.1" cy="340.8" rx="4.9" ry="2.1"/><ellipse cx="345.4" cy="340.8" rx="4.9" ry="2.1"/><ellipse cx="355.8" cy="340.8" rx="4.9" ry="2.1"/><ellipse cx="366.1" cy="340.8" rx="4.9" ry="2.1"/><ellipse cx="376.4" cy="340.8" rx="4.9" ry="2.1"/><ellipse cx="386.8" cy="340.8" rx="4.9" ry="2.1"/><ellipse cx="397.1" cy="340.8" rx="4.9" ry="2.1"/><ellipse cx="407.5" cy="340.8" rx="4.9" ry="2.1"/><ellipse cx="301.5" cy="344.3" rx="5.0" ry="2.1"/><ellipse cx="312.0" cy="344.3" rx="5.0" ry="2.1"/><ellipse cx="322.6" cy="344.3" rx="5.0" ry="2.1"/><ellipse cx="333.1" cy="344.3" rx="5.0" ry="2.1"/><ellipse cx="343.6" cy="344.3" rx="5.0" ry="2.1"/><ellipse cx="354.2" cy="344.3" rx="5.0" ry="2.1"/><ellipse cx="364.7" cy="344.3" rx="5.0" ry="2.1"/><ellipse cx="375.2" cy="344.3" rx="5.0" ry="2.1"/><ellipse cx="385.8" cy="344.3" rx="5.0" ry="2.1"/><ellipse cx="396.3" cy="344.3" rx="5.0" ry="2.1"/><ellipse cx="406.8" cy="344.3" rx="5.0" ry="2.1"/><ellipse cx="298.9" cy="347.8" rx="5.0" ry="2.2"/><ellipse cx="309.6" cy="347.8" rx="5.0" ry="2.2"/><ellipse cx="320.3" cy="347.8" rx="5.0" ry="2.2"/><ellipse cx="331.1" cy="347.8" rx="5.0" ry="2.2"/><ellipse cx="341.8" cy="347.8" rx="5.0" ry="2.2"/><ellipse cx="352.5" cy="347.8" rx="5.0" ry="2.2"/><ellipse cx="363.3" cy="347.8" rx="5.0" ry="2.2"/><ellipse cx="374.0" cy="347.8" rx="5.0" ry="2.2"/><ellipse cx="384.7" cy="347.8" rx="5.0" ry="2.2"/><ellipse cx="395.5" cy="347.8" rx="5.0" ry="2.2"/><ellipse cx="406.2" cy="347.8" rx="5.0" ry="2.2"/><ellipse cx="296.2" cy="351.3" rx="5.1" ry="2.2"/><ellipse cx="307.2" cy="351.3" rx="5.1" ry="2.2"/><ellipse cx="318.1" cy="351.3" rx="5.1" ry="2.2"/><ellipse cx="329.0" cy="351.3" rx="5.1" ry="2.2"/><ellipse cx="340.0" cy="351.3" rx="5.1" ry="2.2"/><ellipse cx="350.9" cy="351.3" rx="5.1" ry="2.2"/><ellipse cx="361.9" cy="351.3" rx="5.1" ry="2.2"/><ellipse cx="372.8" cy="351.3" rx="5.1" ry="2.2"/><ellipse cx="383.7" cy="351.3" rx="5.1" ry="2.2"/><ellipse cx="394.7" cy="351.3" rx="5.1" ry="2.2"/><ellipse cx="405.6" cy="351.3" rx="5.1" ry="2.2"/><ellipse cx="293.5" cy="355.0" rx="5.2" ry="2.3"/><ellipse cx="304.7" cy="355.0" rx="5.2" ry="2.3"/><ellipse cx="315.8" cy="355.0" rx="5.2" ry="2.3"/><ellipse cx="327.0" cy="355.0" rx="5.2" ry="2.3"/><ellipse cx="338.1" cy="355.0" rx="5.2" ry="2.3"/><ellipse cx="349.3" cy="355.0" rx="5.2" ry="2.3"/><ellipse cx="360.4" cy="355.0" rx="5.2" ry="2.3"/><ellipse cx="371.6" cy="355.0" rx="5.2" ry="2.3"/><ellipse cx="382.8" cy="355.0" rx="5.2" ry="2.3"/><ellipse cx="393.9" cy="355.0" rx="5.2" ry="2.3"/><ellipse cx="405.1" cy="355.0" rx="5.2" ry="2.3"/><ellipse cx="290.7" cy="358.7" rx="5.4" ry="2.3"/><ellipse cx="302.1" cy="358.7" rx="5.4" ry="2.3"/><ellipse cx="313.5" cy="358.7" rx="5.4" ry="2.3"/><ellipse cx="324.9" cy="358.7" rx="5.4" ry="2.3"/><ellipse cx="336.3" cy="358.7" rx="5.4" ry="2.3"/><ellipse cx="347.6" cy="358.7" rx="5.4" ry="2.3"/><ellipse cx="359.0" cy="358.7" rx="5.4" ry="2.3"/><ellipse cx="370.4" cy="358.7" rx="5.4" ry="2.3"/><ellipse cx="381.8" cy="358.7" rx="5.4" ry="2.3"/><ellipse cx="393.2" cy="358.7" rx="5.4" ry="2.3"/><ellipse cx="404.6" cy="358.7" rx="5.4" ry="2.3"/><ellipse cx="287.9" cy="362.5" rx="5.5" ry="2.4"/><ellipse cx="299.5" cy="362.5" rx="5.5" ry="2.4"/><ellipse cx="311.1" cy="362.5" rx="5.5" ry="2.4"/><ellipse cx="322.8" cy="362.5" rx="5.5" ry="2.4"/><ellipse cx="334.4" cy="362.5" rx="5.5" ry="2.4"/><ellipse cx="346.0" cy="362.5" rx="5.5" ry="2.4"/><ellipse cx="357.6" cy="362.5" rx="5.5" ry="2.4"/><ellipse cx="369.2" cy="362.5" rx="5.5" ry="2.4"/><ellipse cx="380.9" cy="362.5" rx="5.5" ry="2.4"/><ellipse cx="392.5" cy="362.5" rx="5.5" ry="2.4"/><ellipse cx="404.1" cy="362.5" rx="5.5" ry="2.4"/><ellipse cx="285.0" cy="366.3" rx="5.6" ry="2.4"/><ellipse cx="296.9" cy="366.3" rx="5.6" ry="2.4"/><ellipse cx="308.7" cy="366.3" rx="5.6" ry="2.4"/><ellipse cx="320.6" cy="366.3" rx="5.6" ry="2.4"/><ellipse cx="332.5" cy="366.3" rx="5.6" ry="2.4"/><ellipse cx="344.3" cy="366.3" rx="5.6" ry="2.4"/><ellipse cx="356.2" cy="366.3" rx="5.6" ry="2.4"/><ellipse cx="368.1" cy="366.3" rx="5.6" ry="2.4"/><ellipse cx="379.9" cy="366.3" rx="5.6" ry="2.4"/><ellipse cx="391.8" cy="366.3" rx="5.6" ry="2.4"/><ellipse cx="403.7" cy="366.3" rx="5.6" ry="2.4"/><ellipse cx="282.1" cy="370.3" rx="5.7" ry="2.5"/><ellipse cx="294.2" cy="370.3" rx="5.7" ry="2.5"/><ellipse cx="306.3" cy="370.3" rx="5.7" ry="2.5"/><ellipse cx="318.4" cy="370.3" rx="5.7" ry="2.5"/><ellipse cx="330.6" cy="370.3" rx="5.7" ry="2.5"/><ellipse cx="342.7" cy="370.3" rx="5.7" ry="2.5"/><ellipse cx="354.8" cy="370.3" rx="5.7" ry="2.5"/><ellipse cx="366.9" cy="370.3" rx="5.7" ry="2.5"/><ellipse cx="379.0" cy="370.3" rx="5.7" ry="2.5"/><ellipse cx="391.1" cy="370.3" rx="5.7" ry="2.5"/><ellipse cx="279.1" cy="374.3" rx="5.8" ry="2.5"/><ellipse cx="291.5" cy="374.3" rx="5.8" ry="2.5"/><ellipse cx="303.8" cy="374.3" rx="5.8" ry="2.5"/><ellipse cx="316.2" cy="374.3" rx="5.8" ry="2.5"/><ellipse cx="328.6" cy="374.3" rx="5.8" ry="2.5"/><ellipse cx="341.0" cy="374.3" rx="5.8" ry="2.5"/><ellipse cx="353.4" cy="374.3" rx="5.8" ry="2.5"/><ellipse cx="365.8" cy="374.3" rx="5.8" ry="2.5"/><ellipse cx="378.2" cy="374.3" rx="5.8" ry="2.5"/><ellipse cx="390.5" cy="374.3" rx="5.8" ry="2.5"/><ellipse cx="276.0" cy="378.4" rx="6.0" ry="2.6"/><ellipse cx="288.7" cy="378.4" rx="6.0" ry="2.6"/><ellipse cx="301.3" cy="378.4" rx="6.0" ry="2.6"/><ellipse cx="314.0" cy="378.4" rx="6.0" ry="2.6"/><ellipse cx="326.7" cy="378.4" rx="6.0" ry="2.6"/><ellipse cx="339.3" cy="378.4" rx="6.0" ry="2.6"/><ellipse cx="352.0" cy="378.4" rx="6.0" ry="2.6"/><ellipse cx="364.7" cy="378.4" rx="6.0" ry="2.6"/><ellipse cx="377.3" cy="378.4" rx="6.0" ry="2.6"/><ellipse cx="390.0" cy="378.4" rx="6.0" ry="2.6"/><ellipse cx="272.9" cy="382.6" rx="6.1" ry="2.6"/><ellipse cx="285.8" cy="382.6" rx="6.1" ry="2.6"/><ellipse cx="298.8" cy="382.6" rx="6.1" ry="2.6"/><ellipse cx="311.7" cy="382.6" rx="6.1" ry="2.6"/><ellipse cx="324.7" cy="382.6" rx="6.1" ry="2.6"/><ellipse cx="337.7" cy="382.6" rx="6.1" ry="2.6"/><ellipse cx="350.6" cy="382.6" rx="6.1" ry="2.6"/><ellipse cx="363.6" cy="382.6" rx="6.1" ry="2.6"/><ellipse cx="376.5" cy="382.6" rx="6.1" ry="2.6"/><ellipse cx="389.5" cy="382.6" rx="6.1" ry="2.6"/><ellipse cx="269.7" cy="387.0" rx="6.2" ry="2.7"/><ellipse cx="282.9" cy="387.0" rx="6.2" ry="2.7"/><ellipse cx="296.2" cy="387.0" rx="6.2" ry="2.7"/><ellipse cx="309.5" cy="387.0" rx="6.2" ry="2.7"/><ellipse cx="322.7" cy="387.0" rx="6.2" ry="2.7"/><ellipse cx="336.0" cy="387.0" rx="6.2" ry="2.7"/><ellipse cx="349.2" cy="387.0" rx="6.2" ry="2.7"/><ellipse cx="362.5" cy="387.0" rx="6.2" ry="2.7"/><ellipse cx="375.8" cy="387.0" rx="6.2" ry="2.7"/><ellipse cx="389.0" cy="387.0" rx="6.2" ry="2.7"/><ellipse cx="266.4" cy="391.4" rx="6.4" ry="2.8"/><ellipse cx="280.0" cy="391.4" rx="6.4" ry="2.8"/><ellipse cx="293.6" cy="391.4" rx="6.4" ry="2.8"/><ellipse cx="307.1" cy="391.4" rx="6.4" ry="2.8"/><ellipse cx="320.7" cy="391.4" rx="6.4" ry="2.8"/><ellipse cx="334.3" cy="391.4" rx="6.4" ry="2.8"/><ellipse cx="347.9" cy="391.4" rx="6.4" ry="2.8"/><ellipse cx="361.5" cy="391.4" rx="6.4" ry="2.8"/><ellipse cx="375.0" cy="391.4" rx="6.4" ry="2.8"/><ellipse cx="388.6" cy="391.4" rx="6.4" ry="2.8"/><ellipse cx="263.0" cy="395.9" rx="6.5" ry="2.8"/><ellipse cx="277.0" cy="395.9" rx="6.5" ry="2.8"/><ellipse cx="290.9" cy="395.9" rx="6.5" ry="2.8"/><ellipse cx="304.8" cy="395.9" rx="6.5" ry="2.8"/><ellipse cx="318.7" cy="395.9" rx="6.5" ry="2.8"/><ellipse cx="332.6" cy="395.9" rx="6.5" ry="2.8"/><ellipse cx="346.5" cy="395.9" rx="6.5" ry="2.8"/><ellipse cx="360.4" cy="395.9" rx="6.5" ry="2.8"/><ellipse cx="374.4" cy="395.9" rx="6.5" ry="2.8"/><ellipse cx="388.3" cy="395.9" rx="6.5" ry="2.8"/><ellipse cx="259.6" cy="400.6" rx="6.7" ry="2.9"/><ellipse cx="273.9" cy="400.6" rx="6.7" ry="2.9"/><ellipse cx="288.1" cy="400.6" rx="6.7" ry="2.9"/><ellipse cx="302.4" cy="400.6" rx="6.7" ry="2.9"/><ellipse cx="316.7" cy="400.6" rx="6.7" ry="2.9"/><ellipse cx="330.9" cy="400.6" rx="6.7" ry="2.9"/><ellipse cx="345.2" cy="400.6" rx="6.7" ry="2.9"/><ellipse cx="359.5" cy="400.6" rx="6.7" ry="2.9"/><ellipse cx="373.7" cy="400.6" rx="6.7" ry="2.9"/><ellipse cx="388.0" cy="400.6" rx="6.7" ry="2.9"/><ellipse cx="256.1" cy="405.3" rx="6.9" ry="3.0"/><ellipse cx="270.7" cy="405.3" rx="6.9" ry="3.0"/><ellipse cx="285.4" cy="405.3" rx="6.9" ry="3.0"/><ellipse cx="300.0" cy="405.3" rx="6.9" ry="3.0"/><ellipse cx="314.6" cy="405.3" rx="6.9" ry="3.0"/><ellipse cx="329.3" cy="405.3" rx="6.9" ry="3.0"/><ellipse cx="343.9" cy="405.3" rx="6.9" ry="3.0"/><ellipse cx="358.6" cy="405.3" rx="6.9" ry="3.0"/><ellipse cx="373.2" cy="405.3" rx="6.9" ry="3.0"/><ellipse cx="387.8" cy="405.3" rx="6.9" ry="3.0"/><ellipse cx="252.5" cy="410.2" rx="7.1" ry="3.0"/><ellipse cx="267.5" cy="410.2" rx="7.1" ry="3.0"/><ellipse cx="282.5" cy="410.2" rx="7.1" ry="3.0"/><ellipse cx="297.6" cy="410.2" rx="7.1" ry="3.0"/><ellipse cx="312.6" cy="410.2" rx="7.1" ry="3.0"/><ellipse cx="327.6" cy="410.2" rx="7.1" ry="3.0"/><ellipse cx="342.6" cy="410.2" rx="7.1" ry="3.0"/><ellipse cx="357.7" cy="410.2" rx="7.1" ry="3.0"/><ellipse cx="372.7" cy="410.2" rx="7.1" ry="3.0"/><ellipse cx="387.7" cy="410.2" rx="7.1" ry="3.0"/><ellipse cx="248.8" cy="415.2" rx="7.3" ry="3.1"/><ellipse cx="264.2" cy="415.2" rx="7.3" ry="3.1"/><ellipse cx="279.7" cy="415.2" rx="7.3" ry="3.1"/><ellipse cx="295.1" cy="415.2" rx="7.3" ry="3.1"/><ellipse cx="310.5" cy="415.2" rx="7.3" ry="3.1"/><ellipse cx="326.0" cy="415.2" rx="7.3" ry="3.1"/><ellipse cx="341.4" cy="415.2" rx="7.3" ry="3.1"/><ellipse cx="356.9" cy="415.2" rx="7.3" ry="3.1"/><ellipse cx="372.3" cy="415.2" rx="7.3" ry="3.1"/><ellipse cx="245.0" cy="420.4" rx="7.5" ry="3.2"/><ellipse cx="260.8" cy="420.4" rx="7.5" ry="3.2"/><ellipse cx="276.7" cy="420.4" rx="7.5" ry="3.2"/><ellipse cx="292.6" cy="420.4" rx="7.5" ry="3.2"/><ellipse cx="308.5" cy="420.4" rx="7.5" ry="3.2"/><ellipse cx="324.4" cy="420.4" rx="7.5" ry="3.2"/><ellipse cx="340.2" cy="420.4" rx="7.5" ry="3.2"/><ellipse cx="356.1" cy="420.4" rx="7.5" ry="3.2"/><ellipse cx="372.0" cy="420.4" rx="7.5" ry="3.2"/><ellipse cx="241.1" cy="425.7" rx="7.7" ry="3.3"/><ellipse cx="257.4" cy="425.7" rx="7.7" ry="3.3"/><ellipse cx="273.7" cy="425.7" rx="7.7" ry="3.3"/><ellipse cx="290.1" cy="425.7" rx="7.7" ry="3.3"/><ellipse cx="306.4" cy="425.7" rx="7.7" ry="3.3"/><ellipse cx="322.7" cy="425.7" rx="7.7" ry="3.3"/><ellipse cx="339.1" cy="425.7" rx="7.7" ry="3.3"/><ellipse cx="355.4" cy="425.7" rx="7.7" ry="3.3"/><ellipse cx="371.8" cy="425.7" rx="7.7" ry="3.3"/><ellipse cx="237.0" cy="431.2" rx="7.9" ry="3.4"/><ellipse cx="253.9" cy="431.2" rx="7.9" ry="3.4"/><ellipse cx="270.7" cy="431.2" rx="7.9" ry="3.4"/><ellipse cx="287.5" cy="431.2" rx="7.9" ry="3.4"/><ellipse cx="304.3" cy="431.2" rx="7.9" ry="3.4"/><ellipse cx="321.2" cy="431.2" rx="7.9" ry="3.4"/><ellipse cx="338.0" cy="431.2" rx="7.9" ry="3.4"/><ellipse cx="354.8" cy="431.2" rx="7.9" ry="3.4"/><ellipse cx="371.7" cy="431.2" rx="7.9" ry="3.4"/><ellipse cx="232.9" cy="436.9" rx="8.2" ry="3.5"/><ellipse cx="250.3" cy="436.9" rx="8.2" ry="3.5"/><ellipse cx="267.6" cy="436.9" rx="8.2" ry="3.5"/><ellipse cx="284.9" cy="436.9" rx="8.2" ry="3.5"/><ellipse cx="302.3" cy="436.9" rx="8.2" ry="3.5"/><ellipse cx="319.6" cy="436.9" rx="8.2" ry="3.5"/><ellipse cx="337.0" cy="436.9" rx="8.2" ry="3.5"/><ellipse cx="354.3" cy="436.9" rx="8.2" ry="3.5"/><ellipse cx="371.7" cy="436.9" rx="8.2" ry="3.5"/><ellipse cx="228.7" cy="442.7" rx="8.4" ry="3.6"/><ellipse cx="246.6" cy="442.7" rx="8.4" ry="3.6"/><ellipse cx="264.5" cy="442.7" rx="8.4" ry="3.6"/><ellipse cx="282.3" cy="442.7" rx="8.4" ry="3.6"/><ellipse cx="300.2" cy="442.7" rx="8.4" ry="3.6"/><ellipse cx="318.1" cy="442.7" rx="8.4" ry="3.6"/><ellipse cx="336.0" cy="442.7" rx="8.4" ry="3.6"/><ellipse cx="353.9" cy="442.7" rx="8.4" ry="3.6"/><ellipse cx="371.8" cy="442.7" rx="8.4" ry="3.6"/><ellipse cx="224.3" cy="448.7" rx="8.7" ry="3.7"/><ellipse cx="242.8" cy="448.7" rx="8.7" ry="3.7"/><ellipse cx="261.2" cy="448.7" rx="8.7" ry="3.7"/><ellipse cx="279.7" cy="448.7" rx="8.7" ry="3.7"/><ellipse cx="298.2" cy="448.7" rx="8.7" ry="3.7"/><ellipse cx="316.7" cy="448.7" rx="8.7" ry="3.7"/><ellipse cx="335.2" cy="448.7" rx="8.7" ry="3.7"/><ellipse cx="353.6" cy="448.7" rx="8.7" ry="3.7"/><ellipse cx="372.1" cy="448.7" rx="8.7" ry="3.7"/><ellipse cx="219.8" cy="454.9" rx="9.0" ry="3.9"/><ellipse cx="238.9" cy="454.9" rx="9.0" ry="3.9"/><ellipse cx="258.0" cy="454.9" rx="9.0" ry="3.9"/><ellipse cx="277.1" cy="454.9" rx="9.0" ry="3.9"/><ellipse cx="296.2" cy="454.9" rx="9.0" ry="3.9"/><ellipse cx="315.3" cy="454.9" rx="9.0" ry="3.9"/><ellipse cx="334.4" cy="454.9" rx="9.0" ry="3.9"/><ellipse cx="353.5" cy="454.9" rx="9.0" ry="3.9"/><ellipse cx="215.1" cy="461.3" rx="9.3" ry="4.0"/><ellipse cx="234.9" cy="461.3" rx="9.3" ry="4.0"/><ellipse cx="254.6" cy="461.3" rx="9.3" ry="4.0"/><ellipse cx="274.4" cy="461.3" rx="9.3" ry="4.0"/><ellipse cx="294.2" cy="461.3" rx="9.3" ry="4.0"/><ellipse cx="314.0" cy="461.3" rx="9.3" ry="4.0"/><ellipse cx="333.8" cy="461.3" rx="9.3" ry="4.0"/><ellipse cx="353.5" cy="461.3" rx="9.3" ry="4.0"/><ellipse cx="373.3" cy="461.3" rx="9.3" ry="4.0"/><ellipse cx="393.1" cy="461.3" rx="9.3" ry="4.0"/><ellipse cx="412.9" cy="461.3" rx="9.3" ry="4.0"/><ellipse cx="432.7" cy="461.3" rx="9.3" ry="4.0"/><ellipse cx="210.2" cy="468.0" rx="9.6" ry="4.2"/><ellipse cx="230.8" cy="468.0" rx="9.6" ry="4.2"/><ellipse cx="251.2" cy="468.0" rx="9.6" ry="4.2"/><ellipse cx="271.8" cy="468.0" rx="9.6" ry="4.2"/><ellipse cx="292.2" cy="468.0" rx="9.6" ry="4.2"/><ellipse cx="312.8" cy="468.0" rx="9.6" ry="4.2"/><ellipse cx="333.2" cy="468.0" rx="9.6" ry="4.2"/><ellipse cx="353.8" cy="468.0" rx="9.6" ry="4.2"/><ellipse cx="374.2" cy="468.0" rx="9.6" ry="4.2"/><ellipse cx="394.8" cy="468.0" rx="9.6" ry="4.2"/><ellipse cx="415.2" cy="468.0" rx="9.6" ry="4.2"/><ellipse cx="435.8" cy="468.0" rx="9.6" ry="4.2"/></g>
</g>
<g fill="#e9e9eb"><ellipse cx="338.0" cy="295.2" rx="3.8" ry="2.2"/><ellipse cx="346.0" cy="295.2" rx="3.8" ry="2.2"/><ellipse cx="354.0" cy="295.2" rx="3.8" ry="2.2"/><ellipse cx="362.0" cy="295.2" rx="3.8" ry="2.2"/><ellipse cx="370.0" cy="295.2" rx="3.8" ry="2.2"/><ellipse cx="378.0" cy="295.2" rx="3.8" ry="2.2"/><ellipse cx="386.0" cy="295.2" rx="3.8" ry="2.2"/><ellipse cx="394.0" cy="295.2" rx="3.8" ry="2.2"/><ellipse cx="402.0" cy="295.2" rx="3.8" ry="2.2"/><ellipse cx="410.0" cy="295.2" rx="3.8" ry="2.2"/><ellipse cx="418.0" cy="295.2" rx="3.8" ry="2.2"/></g>
<path d="M199.7,469 L220.7,469 L220.7,527.0 Q220.7,534.0 210.2,534.0 Q199.7,534.0 199.7,527.0 Z" fill="url(#gCol)"/>
<path d="M220.7,469 L241.7,469 L241.7,527.9 Q241.7,534.9 231.2,534.9 Q220.7,534.9 220.7,527.9 Z" fill="url(#gCol)"/>
<path d="M241.7,469 L262,469 L262,528.8 Q262,535.8 251.8,535.8 Q241.7,535.8 241.7,528.8 Z" fill="url(#gCol)"/>
<path d="M262,469 L282.3,469 L282.3,529.7 Q282.3,536.7 272.1,536.7 Q262,536.7 262,529.7 Z" fill="url(#gCol)"/>
<g stroke="#cfd0d3" stroke-width="1" opacity=".7"><path d="M201,488 L281,489"/><path d="M201,504 L281,505"/><path d="M201,519 L281,520"/></g>
<g fill="#efeff0" stroke="#c6c8cb" stroke-width=".8"><ellipse cx="210.2" cy="468.5" rx="10.2" ry="4.2"/><ellipse cx="231.2" cy="468.5" rx="10.2" ry="4.2"/><ellipse cx="251.8" cy="468.5" rx="9.9" ry="4.2"/><ellipse cx="272.1" cy="468.5" rx="9.9" ry="4.2"/></g>
<rect x="412" y="462" width="94" height="10" fill="#2b3036"/>
<polygon points="279,482 287,470 506,470 506,483" fill="#8fcfab"/>
<polygon points="279,482 287,470 506,470 506,483" fill="url(#gBoxTopSh)" mask="url(#mBoxTop)"/>
<polygon points="279,482 506,482 507,553 282,553" fill="url(#gBox)"/>
<path d="M280,482.6 L506,482.6" stroke="#a5d6bb" stroke-width="1.4" opacity=".6" fill="none" filter="url(#b05)"/>
<path d="M443,274 L492,274 L492,448 L1138,445 Q1150,447 1151.5,459 L1152,466.5 L352,466.5 Q337,464.5 343,454 L429.5,282 Q433.5,274 443,274 Z" fill="#5e6570"/>
<path d="M443,274 L492,274 L492,448 L1138,445 Q1150,447 1151.5,459 L1152,466.5 L352,466.5 Q337,464.5 343,454 L429.5,282 Q433.5,274 443,274 Z" fill="#000" filter="url(#noise)" opacity=".38"/>
<path d="M443,274 L492,274 L492,448 L1138,445 Q1150,447 1151.5,459 L1152,466.5 L352,466.5 Q337,464.5 343,454 L429.5,282 Q433.5,274 443,274 Z" fill="#000" filter="url(#noiseL)" opacity=".32"/>
<g clip-path="url(#cFelt2)"><path d="M419,448 L1146,448 Q1152,450 1152,456 L1152,466 L352,466 Q345,465 344,462 L419,462 Z" fill="#1b1f24" opacity=".45" filter="url(#b2)"/></g>
<g clip-path="url(#cFelt2)"><rect x="419" y="448" width="733" height="8" fill="url(#gFeltSh)"/></g>
<path d="M350,465 L1151,465" stroke="#6b727a" stroke-width="2" fill="none" opacity=".7"/>
<polygon points="418.5,424.0 488.5,248.0 490.0,245.4 491.5,244.5 493.0,243.8 494.5,243.2 496.0,242.7 497.5,242.3 499.0,241.9 500.5,241.7 502.0,241.6 503.5,241.6 505.0,241.7 506.5,241.9 508.0,242.3 509.5,242.7 511.0,243.2 512.5,243.8 514.0,244.5 515.5,245.4 517.0,245.7 518.5,244.8 520.0,244.0 521.5,243.4 523.0,242.8 524.5,242.4 526.0,242.0 527.5,241.8 529.0,241.6 530.5,241.6 532.0,241.7 533.5,241.9 535.0,242.1 536.5,242.5 538.0,243.0 539.5,243.6 541.0,244.3 542.5,245.1 544.0,246.2 545.5,245.1 547.0,244.3 548.5,243.6 550.0,243.0 551.5,242.5 553.0,242.1 554.5,241.9 556.0,241.7 557.5,241.6 559.0,241.6 560.5,241.8 562.0,242.0 563.5,242.4 565.0,242.8 566.5,243.4 568.0,244.0 569.5,244.8 571.0,245.7 572.5,245.4 574.0,244.5 575.5,243.8 577.0,243.2 578.5,242.7 580.0,242.3 581.5,241.9 583.0,241.7 584.5,241.6 586.0,241.6 587.5,241.7 589.0,241.9 590.5,242.3 592.0,242.7 593.5,243.2 595.0,243.8 596.5,244.5 598.0,245.4 599.5,245.7 601.0,244.8 602.5,244.0 604.0,243.4 605.5,242.8 607.0,242.4 608.5,242.0 610.0,241.8 611.5,241.6 613.0,241.6 614.5,241.7 616.0,241.9 617.5,242.1 619.0,242.5 620.5,243.0 622.0,243.6 623.5,244.3 625.0,245.1 627.0,247.0 627.0,424.0" fill="url(#gTopFace)"/>
<g clip-path="url(#cTopFace)">
<path d="M502.5,240 L441.5,426" stroke="#8acfa9" stroke-width="9" fill="none" filter="url(#b3)" opacity=".6"/>
<path d="M530.0,240 L483.2,426" stroke="#8acfa9" stroke-width="9" fill="none" filter="url(#b3)" opacity=".6"/>
<path d="M557.5,240 L522.5,426" stroke="#8acfa9" stroke-width="9" fill="none" filter="url(#b3)" opacity=".6"/>
<path d="M585.0,240 L562.5,426" stroke="#8acfa9" stroke-width="9" fill="none" filter="url(#b3)" opacity=".6"/>
<path d="M612.8,240 L602.2,426" stroke="#8acfa9" stroke-width="9" fill="none" filter="url(#b3)" opacity=".6"/>
<path d="M516.0,240 L464.0,426" stroke="#69ad88" stroke-width="3" fill="none" filter="url(#b2)" opacity=".75"/>
<path d="M544.0,240 L502.5,426" stroke="#69ad88" stroke-width="3" fill="none" filter="url(#b2)" opacity=".75"/>
<path d="M571.0,240 L542.5,426" stroke="#69ad88" stroke-width="3" fill="none" filter="url(#b2)" opacity=".75"/>
<path d="M599.0,240 L582.5,426" stroke="#69ad88" stroke-width="3" fill="none" filter="url(#b2)" opacity=".75"/>
<path d="M626.5,240 L622.0,426" stroke="#69ad88" stroke-width="3" fill="none" filter="url(#b2)" opacity=".75"/>
<path d="M627,240 L623,426" stroke="#568f70" stroke-width="6" fill="none" filter="url(#b2)"/>
</g>
<g clip-path="url(#cGroove)">
<rect x="620" y="400" width="530" height="24" fill="url(#gGroove)"/>
<g fill="#3f7a5c" filter="url(#b1)" opacity=".62"><polygon points="639,401 653,401 661,424 650,424"/><polygon points="678,401 692,401 700,424 690,424"/><polygon points="718,401 732,401 740,424 729,424"/><polygon points="758,401 772,401 780,424 768,424"/><polygon points="797,401 811,401 819,424 808,424"/><polygon points="836,401 850,401 858,424 848,424"/><polygon points="977,401 991,401 999,424 988,424"/><polygon points="1018,401 1032,401 1040,424 1028,424"/><polygon points="1058,401 1072,401 1080,424 1069,424"/><polygon points="1098,401 1112,401 1120,424 1110,424"/><polygon points="1139,401 1153,401 1161,424 1150,424"/><polygon points="1180,401 1194,401 1202,424 1190,424"/></g>
<g fill="#375a47" filter="url(#b05)" opacity=".7"><polygon points="806,401 813,401 820,424 813,424"/><polygon points="828,401 835,401 842,424 835,424"/><polygon points="851,401 858,401 865,424 858,424"/><polygon points="873,401 880,401 887,424 880,424"/><polygon points="896,401 903,401 910,424 903,424"/><polygon points="918,401 925,401 932,424 925,424"/><polygon points="940,401 947,401 954,424 947,424"/><polygon points="963,401 970,401 977,424 970,424"/></g>
<rect x="817" y="400" width="137" height="24" fill="#5f6f66" opacity=".35"/>
</g>
<polygon points="418.5,423.0 419.5,423.0 420.5,422.9 421.5,422.6 422.5,422.3 423.5,421.8 424.5,421.3 425.5,420.8 426.5,420.2 427.5,419.7 428.5,419.2 429.5,418.7 430.5,418.3 431.5,418.0 432.5,417.8 433.5,417.6 434.5,417.5 435.5,417.4 436.5,417.4 437.5,417.4 438.5,417.4 439.5,417.4 440.5,417.4 441.5,417.4 442.5,417.5 443.5,417.6 444.5,417.7 445.5,417.9 446.5,418.2 447.5,418.5 448.5,419.0 449.5,419.4 450.5,420.0 451.5,420.5 452.5,421.1 453.5,421.6 454.5,422.1 455.5,422.4 456.5,422.7 457.5,422.9 458.5,423.0 459.5,422.9 460.5,422.7 461.5,422.4 462.5,422.1 463.5,421.6 464.5,421.1 465.5,420.5 466.5,420.0 467.5,419.4 468.5,419.0 469.5,418.5 470.5,418.2 471.5,417.9 472.5,417.7 473.5,417.6 474.5,417.5 475.5,417.4 476.5,417.4 477.5,417.4 478.5,417.4 479.5,417.4 480.5,417.4 481.5,417.4 482.5,417.5 483.5,417.6 484.5,417.8 485.5,418.0 486.5,418.3 487.5,418.7 488.5,419.2 489.5,419.7 490.5,420.2 491.5,420.8 492.5,421.3 493.5,421.8 494.5,422.3 495.5,422.6 496.5,422.9 497.5,423.0 498.5,423.0 499.5,422.9 500.5,422.6 501.5,422.3 502.5,421.8 503.5,421.3 504.5,420.8 505.5,420.2 506.5,419.7 507.5,419.2 508.5,418.7 509.5,418.3 510.5,418.0 511.5,417.8 512.5,417.6 513.5,417.5 514.5,417.4 515.5,417.4 516.5,417.4 517.5,417.4 518.5,417.4 519.5,417.4 520.5,417.4 521.5,417.5 522.5,417.6 523.5,417.7 524.5,417.9 525.5,418.2 526.5,418.5 527.5,419.0 528.5,419.4 529.5,420.0 530.5,420.5 531.5,421.1 532.5,421.6 533.5,422.1 534.5,422.4 535.5,422.7 536.5,422.9 537.5,423.0 538.5,422.9 539.5,422.7 540.5,422.4 541.5,422.1 542.5,421.6 543.5,421.1 544.5,420.5 545.5,420.0 546.5,419.4 547.5,419.0 548.5,418.5 549.5,418.2 550.5,417.9 551.5,417.7 552.5,417.6 553.5,417.5 554.5,417.4 555.5,417.4 556.5,417.4 557.5,417.4 558.5,417.4 559.5,417.4 560.5,417.4 561.5,417.5 562.5,417.6 563.5,417.8 564.5,418.0 565.5,418.3 566.5,418.7 567.5,419.2 568.5,419.7 569.5,420.2 570.5,420.8 571.5,421.3 572.5,421.8 573.5,422.3 574.5,422.6 575.5,422.9 576.5,423.0 577.5,423.0 578.5,422.9 579.5,422.6 580.5,422.3 581.5,421.8 582.5,421.3 583.5,420.8 584.5,420.2 585.5,419.7 586.5,419.2 587.5,418.7 588.5,418.3 589.5,418.0 590.5,417.8 591.5,417.6 592.5,417.5 593.5,417.4 594.5,417.4 595.5,417.4 596.5,417.4 597.5,417.4 598.5,417.4 599.5,417.4 600.5,417.5 601.5,417.6 602.5,417.7 603.5,417.9 604.5,418.2 605.5,418.5 606.5,419.0 607.5,419.4 608.5,420.0 609.5,420.5 610.5,421.1 611.5,421.6 612.5,422.1 613.5,422.4 614.5,422.7 615.5,422.9 616.5,423.0 617.5,422.9 618.5,422.7 619.5,422.4 620.5,422.1 621.5,421.6 622.5,421.1 623.5,420.5 624.5,420.0 625.5,419.4 626.5,419.0 627.5,418.5 628.5,418.2 629.5,417.9 630.5,417.7 631.5,417.6 632.5,417.5 633.5,417.4 634.5,417.4 635.5,417.4 636.5,417.4 637.5,417.4 638.5,417.4 639.5,417.4 640.5,417.5 641.5,417.6 642.5,417.8 643.5,418.0 644.5,418.3 645.5,418.7 646.5,419.2 647.5,419.7 648.5,420.2 649.5,420.8 650.5,421.3 651.5,421.8 652.5,422.3 653.5,422.6 654.5,422.9 655.5,423.0 656.5,423.0 657.5,422.9 658.5,422.6 659.5,422.3 660.5,421.8 661.5,421.3 662.5,420.8 663.5,420.2 664.5,419.7 665.5,419.2 666.5,418.7 667.5,418.3 668.5,418.0 669.5,417.8 670.5,417.6 671.5,417.5 672.5,417.4 673.5,417.4 674.5,417.4 675.5,417.4 676.5,417.4 677.5,417.4 678.5,417.4 679.5,417.5 680.5,417.6 681.5,417.7 682.5,417.9 683.5,418.2 684.5,418.5 685.5,419.0 686.5,419.4 687.5,420.0 688.5,420.5 689.5,421.1 690.5,421.6 691.5,422.1 692.5,422.4 693.5,422.7 694.5,422.9 695.5,423.0 696.5,422.9 697.5,422.7 698.5,422.4 699.5,422.1 700.5,421.6 701.5,421.1 702.5,420.5 703.5,420.0 704.5,419.4 705.5,419.0 706.5,418.5 707.5,418.2 708.5,417.9 709.5,417.7 710.5,417.6 711.5,417.5 712.5,417.4 713.5,417.4 714.5,417.4 715.5,417.4 716.5,417.4 717.5,417.4 718.5,417.4 719.5,417.5 720.5,417.6 721.5,417.8 722.5,418.0 723.5,418.3 724.5,418.7 725.5,419.2 726.5,419.7 727.5,420.2 728.5,420.8 729.5,421.3 730.5,421.8 731.5,422.3 732.5,422.6 733.5,422.9 734.5,423.0 735.5,423.0 736.5,422.9 737.5,422.6 738.5,422.3 739.5,421.8 740.5,421.3 741.5,420.8 742.5,420.2 743.5,419.7 744.5,419.2 745.5,418.7 746.5,418.3 747.5,418.0 748.5,417.8 749.5,417.6 750.5,417.5 751.5,417.4 752.5,417.4 753.5,417.4 754.5,417.4 755.5,417.4 756.5,417.4 757.5,417.4 758.5,417.5 759.5,417.6 760.5,417.7 761.5,417.9 762.5,418.2 763.5,418.5 764.5,419.0 765.5,419.4 766.5,420.0 767.5,420.5 768.5,421.1 769.5,421.6 770.5,422.1 771.5,422.4 772.5,422.7 773.5,422.9 774.5,423.0 775.5,422.9 776.5,422.7 777.5,422.4 778.5,422.1 779.5,421.6 780.5,421.1 781.5,420.5 782.5,420.0 783.5,419.4 784.5,419.0 785.5,418.5 786.5,418.2 787.5,417.9 788.5,417.7 789.5,417.6 790.5,417.5 791.5,417.4 792.5,417.4 793.5,417.4 794.5,417.4 795.5,417.4 796.5,417.4 797.5,417.4 798.5,417.5 799.5,417.6 800.5,417.8 801.5,418.0 802.5,418.3 803.5,418.7 804.5,419.2 805.5,419.7 806.5,420.2 807.5,420.8 808.5,421.3 809.5,421.8 810.5,422.3 811.5,422.6 812.5,422.9 813.5,423.0 814.5,423.0 815.5,422.9 816.5,422.6 817.0,448.5 420.0,448.5 418.5,424.0" fill="#84bf9d"/>
<polyline points="418.5,423.0 419.5,423.0 420.5,422.9 421.5,422.6 422.5,422.3 423.5,421.8 424.5,421.3 425.5,420.8 426.5,420.2 427.5,419.7 428.5,419.2 429.5,418.7 430.5,418.3 431.5,418.0 432.5,417.8 433.5,417.6 434.5,417.5 435.5,417.4 436.5,417.4 437.5,417.4 438.5,417.4 439.5,417.4 440.5,417.4 441.5,417.4 442.5,417.5 443.5,417.6 444.5,417.7 445.5,417.9 446.5,418.2 447.5,418.5 448.5,419.0 449.5,419.4 450.5,420.0 451.5,420.5 452.5,421.1 453.5,421.6 454.5,422.1 455.5,422.4 456.5,422.7 457.5,422.9 458.5,423.0 459.5,422.9 460.5,422.7 461.5,422.4 462.5,422.1 463.5,421.6 464.5,421.1 465.5,420.5 466.5,420.0 467.5,419.4 468.5,419.0 469.5,418.5 470.5,418.2 471.5,417.9 472.5,417.7 473.5,417.6 474.5,417.5 475.5,417.4 476.5,417.4 477.5,417.4 478.5,417.4 479.5,417.4 480.5,417.4 481.5,417.4 482.5,417.5 483.5,417.6 484.5,417.8 485.5,418.0 486.5,418.3 487.5,418.7 488.5,419.2 489.5,419.7 490.5,420.2 491.5,420.8 492.5,421.3 493.5,421.8 494.5,422.3 495.5,422.6 496.5,422.9 497.5,423.0 498.5,423.0 499.5,422.9 500.5,422.6 501.5,422.3 502.5,421.8 503.5,421.3 504.5,420.8 505.5,420.2 506.5,419.7 507.5,419.2 508.5,418.7 509.5,418.3 510.5,418.0 511.5,417.8 512.5,417.6 513.5,417.5 514.5,417.4 515.5,417.4 516.5,417.4 517.5,417.4 518.5,417.4 519.5,417.4 520.5,417.4 521.5,417.5 522.5,417.6 523.5,417.7 524.5,417.9 525.5,418.2 526.5,418.5 527.5,419.0 528.5,419.4 529.5,420.0 530.5,420.5 531.5,421.1 532.5,421.6 533.5,422.1 534.5,422.4 535.5,422.7 536.5,422.9 537.5,423.0 538.5,422.9 539.5,422.7 540.5,422.4 541.5,422.1 542.5,421.6 543.5,421.1 544.5,420.5 545.5,420.0 546.5,419.4 547.5,419.0 548.5,418.5 549.5,418.2 550.5,417.9 551.5,417.7 552.5,417.6 553.5,417.5 554.5,417.4 555.5,417.4 556.5,417.4 557.5,417.4 558.5,417.4 559.5,417.4 560.5,417.4 561.5,417.5 562.5,417.6 563.5,417.8 564.5,418.0 565.5,418.3 566.5,418.7 567.5,419.2 568.5,419.7 569.5,420.2 570.5,420.8 571.5,421.3 572.5,421.8 573.5,422.3 574.5,422.6 575.5,422.9 576.5,423.0 577.5,423.0 578.5,422.9 579.5,422.6 580.5,422.3 581.5,421.8 582.5,421.3 583.5,420.8 584.5,420.2 585.5,419.7 586.5,419.2 587.5,418.7 588.5,418.3 589.5,418.0 590.5,417.8 591.5,417.6 592.5,417.5 593.5,417.4 594.5,417.4 595.5,417.4 596.5,417.4 597.5,417.4 598.5,417.4 599.5,417.4 600.5,417.5 601.5,417.6 602.5,417.7 603.5,417.9 604.5,418.2 605.5,418.5 606.5,419.0 607.5,419.4 608.5,420.0 609.5,420.5 610.5,421.1 611.5,421.6 612.5,422.1 613.5,422.4 614.5,422.7 615.5,422.9 616.5,423.0 617.5,422.9 618.5,422.7 619.5,422.4 620.5,422.1 621.5,421.6 622.5,421.1 623.5,420.5 624.5,420.0 625.5,419.4 626.5,419.0 627.5,418.5 628.5,418.2 629.5,417.9 630.5,417.7 631.5,417.6 632.5,417.5 633.5,417.4 634.5,417.4 635.5,417.4 636.5,417.4 637.5,417.4 638.5,417.4 639.5,417.4 640.5,417.5 641.5,417.6 642.5,417.8 643.5,418.0 644.5,418.3 645.5,418.7 646.5,419.2 647.5,419.7 648.5,420.2 649.5,420.8 650.5,421.3 651.5,421.8 652.5,422.3 653.5,422.6 654.5,422.9 655.5,423.0 656.5,423.0 657.5,422.9 658.5,422.6 659.5,422.3 660.5,421.8 661.5,421.3 662.5,420.8 663.5,420.2 664.5,419.7 665.5,419.2 666.5,418.7 667.5,418.3 668.5,418.0 669.5,417.8 670.5,417.6 671.5,417.5 672.5,417.4 673.5,417.4 674.5,417.4 675.5,417.4 676.5,417.4 677.5,417.4 678.5,417.4 679.5,417.5 680.5,417.6 681.5,417.7 682.5,417.9 683.5,418.2 684.5,418.5 685.5,419.0 686.5,419.4 687.5,420.0 688.5,420.5 689.5,421.1 690.5,421.6 691.5,422.1 692.5,422.4 693.5,422.7 694.5,422.9 695.5,423.0 696.5,422.9 697.5,422.7 698.5,422.4 699.5,422.1 700.5,421.6 701.5,421.1 702.5,420.5 703.5,420.0 704.5,419.4 705.5,419.0 706.5,418.5 707.5,418.2 708.5,417.9 709.5,417.7 710.5,417.6 711.5,417.5 712.5,417.4 713.5,417.4 714.5,417.4 715.5,417.4 716.5,417.4 717.5,417.4 718.5,417.4 719.5,417.5 720.5,417.6 721.5,417.8 722.5,418.0 723.5,418.3 724.5,418.7 725.5,419.2 726.5,419.7 727.5,420.2 728.5,420.8 729.5,421.3 730.5,421.8 731.5,422.3 732.5,422.6 733.5,422.9 734.5,423.0 735.5,423.0 736.5,422.9 737.5,422.6 738.5,422.3 739.5,421.8 740.5,421.3 741.5,420.8 742.5,420.2 743.5,419.7 744.5,419.2 745.5,418.7 746.5,418.3 747.5,418.0 748.5,417.8 749.5,417.6 750.5,417.5 751.5,417.4 752.5,417.4 753.5,417.4 754.5,417.4 755.5,417.4 756.5,417.4 757.5,417.4 758.5,417.5 759.5,417.6 760.5,417.7 761.5,417.9 762.5,418.2 763.5,418.5 764.5,419.0 765.5,419.4 766.5,420.0 767.5,420.5 768.5,421.1 769.5,421.6 770.5,422.1 771.5,422.4 772.5,422.7 773.5,422.9 774.5,423.0 775.5,422.9 776.5,422.7 777.5,422.4 778.5,422.1 779.5,421.6 780.5,421.1 781.5,420.5 782.5,420.0 783.5,419.4 784.5,419.0 785.5,418.5 786.5,418.2 787.5,417.9 788.5,417.7 789.5,417.6 790.5,417.5 791.5,417.4 792.5,417.4 793.5,417.4 794.5,417.4 795.5,417.4 796.5,417.4 797.5,417.4 798.5,417.5 799.5,417.6 800.5,417.8 801.5,418.0 802.5,418.3 803.5,418.7 804.5,419.2 805.5,419.7 806.5,420.2 807.5,420.8 808.5,421.3 809.5,421.8 810.5,422.3 811.5,422.6 812.5,422.9 813.5,423.0 814.5,423.0 815.5,422.9 816.5,422.6" fill="none" stroke="#b3dcc5" stroke-width="1.8" opacity=".7" filter="url(#b05)"/>
<path d="M419.3,424 L420.3,448" stroke="#a6d6bc" stroke-width="1.4" opacity=".7"/>
<polygon points="817.0,423.0 818.0,422.8 819.0,422.3 820.0,421.6 821.0,420.7 822.0,419.9 823.0,419.2 824.0,418.6 825.0,418.2 826.0,418.1 827.0,418.0 828.0,418.0 829.0,418.0 830.0,418.0 831.0,418.2 832.0,418.4 833.0,418.9 834.0,419.6 835.0,420.4 836.0,421.3 837.0,422.1 838.0,422.7 839.0,423.0 840.0,422.9 841.0,422.6 842.0,421.9 843.0,421.1 844.0,420.2 845.0,419.4 846.0,418.8 847.0,418.4 848.0,418.1 849.0,418.0 850.0,418.0 851.0,418.0 852.0,418.0 853.0,418.1 854.0,418.3 855.0,418.7 856.0,419.3 857.0,420.1 858.0,420.9 859.0,421.8 860.0,422.5 861.0,422.9 862.0,423.0 863.0,422.8 864.0,422.2 865.0,421.4 866.0,420.6 867.0,419.7 868.0,419.0 869.0,418.5 870.0,418.2 871.0,418.0 872.0,418.0 873.0,418.0 874.0,418.0 875.0,418.0 876.0,418.2 877.0,418.5 878.0,419.0 879.0,419.7 880.0,420.6 881.0,421.4 882.0,422.2 883.0,422.8 884.0,423.0 885.0,422.9 886.0,422.5 887.0,421.8 888.0,420.9 889.0,420.1 890.0,419.3 891.0,418.7 892.0,418.3 893.0,418.1 894.0,418.0 895.0,418.0 896.0,418.0 897.0,418.0 898.0,418.1 899.0,418.4 900.0,418.8 901.0,419.4 902.0,420.2 903.0,421.1 904.0,421.9 905.0,422.6 906.0,422.9 907.0,423.0 908.0,422.7 909.0,422.1 910.0,421.3 911.0,420.4 912.0,419.6 913.0,418.9 914.0,418.4 915.0,418.2 916.0,418.0 917.0,418.0 918.0,418.0 919.0,418.0 920.0,418.1 921.0,418.2 922.0,418.6 923.0,419.2 924.0,419.9 925.0,420.7 926.0,421.6 927.0,422.3 928.0,422.8 929.0,423.0 930.0,422.8 931.0,422.3 932.0,421.6 933.0,420.7 934.0,419.9 935.0,419.2 936.0,418.6 937.0,418.2 938.0,418.1 939.0,418.0 940.0,418.0 941.0,418.0 942.0,418.0 943.0,418.2 944.0,418.4 945.0,418.9 946.0,419.6 947.0,420.4 948.0,421.3 949.0,422.1 950.0,422.7 951.0,423.0 952.0,422.9 953.0,422.6 954.0,421.9 955.0,421.1 951.0,448.5 816.5,448.5" fill="#76a088"/>
<polyline points="817.0,423.0 818.0,422.8 819.0,422.3 820.0,421.6 821.0,420.7 822.0,419.9 823.0,419.2 824.0,418.6 825.0,418.2 826.0,418.1 827.0,418.0 828.0,418.0 829.0,418.0 830.0,418.0 831.0,418.2 832.0,418.4 833.0,418.9 834.0,419.6 835.0,420.4 836.0,421.3 837.0,422.1 838.0,422.7 839.0,423.0 840.0,422.9 841.0,422.6 842.0,421.9 843.0,421.1 844.0,420.2 845.0,419.4 846.0,418.8 847.0,418.4 848.0,418.1 849.0,418.0 850.0,418.0 851.0,418.0 852.0,418.0 853.0,418.1 854.0,418.3 855.0,418.7 856.0,419.3 857.0,420.1 858.0,420.9 859.0,421.8 860.0,422.5 861.0,422.9 862.0,423.0 863.0,422.8 864.0,422.2 865.0,421.4 866.0,420.6 867.0,419.7 868.0,419.0 869.0,418.5 870.0,418.2 871.0,418.0 872.0,418.0 873.0,418.0 874.0,418.0 875.0,418.0 876.0,418.2 877.0,418.5 878.0,419.0 879.0,419.7 880.0,420.6 881.0,421.4 882.0,422.2 883.0,422.8 884.0,423.0 885.0,422.9 886.0,422.5 887.0,421.8 888.0,420.9 889.0,420.1 890.0,419.3 891.0,418.7 892.0,418.3 893.0,418.1 894.0,418.0 895.0,418.0 896.0,418.0 897.0,418.0 898.0,418.1 899.0,418.4 900.0,418.8 901.0,419.4 902.0,420.2 903.0,421.1 904.0,421.9 905.0,422.6 906.0,422.9 907.0,423.0 908.0,422.7 909.0,422.1 910.0,421.3 911.0,420.4 912.0,419.6 913.0,418.9 914.0,418.4 915.0,418.2 916.0,418.0 917.0,418.0 918.0,418.0 919.0,418.0 920.0,418.1 921.0,418.2 922.0,418.6 923.0,419.2 924.0,419.9 925.0,420.7 926.0,421.6 927.0,422.3 928.0,422.8 929.0,423.0 930.0,422.8 931.0,422.3 932.0,421.6 933.0,420.7 934.0,419.9 935.0,419.2 936.0,418.6 937.0,418.2 938.0,418.1 939.0,418.0 940.0,418.0 941.0,418.0 942.0,418.0 943.0,418.2 944.0,418.4 945.0,418.9 946.0,419.6 947.0,420.4 948.0,421.3 949.0,422.1 950.0,422.7 951.0,423.0 952.0,422.9 953.0,422.6 954.0,421.9 955.0,421.1" fill="none" stroke="#9dbfaa" stroke-width="1.2" opacity=".7" filter="url(#b05)"/>
<path d="M954.0,423.0 L955.0,422.9 L956.0,422.6 L957.0,422.3 L958.0,421.9 L959.0,421.4 L960.0,420.9 L961.0,420.3 L962.0,419.8 L963.0,419.3 L964.0,418.8 L965.0,418.4 L966.0,418.1 L967.0,417.9 L968.0,417.7 L969.0,417.5 L970.0,417.5 L971.0,417.4 L972.0,417.4 L973.0,417.4 L974.0,417.4 L975.0,417.4 L976.0,417.4 L977.0,417.4 L978.0,417.5 L979.0,417.6 L980.0,417.8 L981.0,418.0 L982.0,418.3 L983.0,418.6 L984.0,419.1 L985.0,419.5 L986.0,420.1 L987.0,420.6 L988.0,421.1 L989.0,421.6 L990.0,422.1 L991.0,422.5 L992.0,422.8 L993.0,422.9 L994.0,423.0 L995.0,422.9 L996.0,422.8 L997.0,422.5 L998.0,422.1 L999.0,421.6 L1000.0,421.1 L1001.0,420.6 L1002.0,420.1 L1003.0,419.5 L1004.0,419.1 L1005.0,418.6 L1006.0,418.3 L1007.0,418.0 L1008.0,417.8 L1009.0,417.6 L1010.0,417.5 L1011.0,417.4 L1012.0,417.4 L1013.0,417.4 L1014.0,417.4 L1015.0,417.4 L1016.0,417.4 L1017.0,417.4 L1018.0,417.5 L1019.0,417.5 L1020.0,417.7 L1021.0,417.9 L1022.0,418.1 L1023.0,418.4 L1024.0,418.8 L1025.0,419.3 L1026.0,419.8 L1027.0,420.3 L1028.0,420.9 L1029.0,421.4 L1030.0,421.9 L1031.0,422.3 L1032.0,422.6 L1033.0,422.9 L1034.0,423.0 L1035.0,423.0 L1036.0,422.9 L1037.0,422.6 L1038.0,422.3 L1039.0,421.9 L1040.0,421.4 L1041.0,420.9 L1042.0,420.3 L1043.0,419.8 L1044.0,419.3 L1045.0,418.8 L1046.0,418.4 L1047.0,418.1 L1048.0,417.9 L1049.0,417.7 L1050.0,417.5 L1051.0,417.5 L1052.0,417.4 L1053.0,417.4 L1054.0,417.4 L1055.0,417.4 L1056.0,417.4 L1057.0,417.4 L1058.0,417.4 L1059.0,417.5 L1060.0,417.6 L1061.0,417.8 L1062.0,418.0 L1063.0,418.3 L1064.0,418.6 L1065.0,419.1 L1066.0,419.5 L1067.0,420.1 L1068.0,420.6 L1069.0,421.1 L1070.0,421.6 L1071.0,422.1 L1072.0,422.5 L1073.0,422.8 L1074.0,422.9 L1075.0,423.0 L1076.0,422.9 L1077.0,422.8 L1078.0,422.5 L1079.0,422.1 L1080.0,421.6 L1081.0,421.1 L1082.0,420.6 L1083.0,420.1 L1084.0,419.5 L1085.0,419.1 L1086.0,418.6 L1087.0,418.3 L1088.0,418.0 L1089.0,417.8 L1090.0,417.6 L1091.0,417.5 L1092.0,417.4 L1093.0,417.4 L1094.0,417.4 L1095.0,417.4 L1096.0,417.4 L1097.0,417.4 L1098.0,417.4 L1099.0,417.5 L1100.0,417.5 L1101.0,417.7 L1102.0,417.9 L1103.0,418.1 L1104.0,418.4 L1105.0,418.8 L1106.0,419.3 L1107.0,419.8 L1108.0,420.3 L1109.0,420.9 L1110.0,421.4 L1111.0,421.9 L1112.0,422.3 L1113.0,422.6 L1114.0,422.9 L1115.0,423.0 L1116.0,423.0 L1117.0,422.9 L1118.0,422.6 L1119.0,422.3 L1120.0,421.9 L1121.0,421.4 L1122.0,420.9 L1123.0,420.3 L1124.0,419.8 L1125.0,419.3 L1126.0,418.8 L1127.0,418.4 L1128.0,418.1 L1129.0,417.9 L1130.0,417.7 L1131.0,417.5 L1132.0,417.5 L1133.0,417.4 L1134.0,417.4 L1135.0,417.4 L1136.0,417.4 L1137.0,417.4 L1138.0,417.4 L1139.0,417.4 L1140.0,417.5 L1141.0,417.6 L1143.5,420 L1143.5,441 Q1143,448 1135,448.5 L951,448.5 Z" fill="#83c29e"/>
<polyline points="954.0,423.0 955.0,422.9 956.0,422.6 957.0,422.3 958.0,421.9 959.0,421.4 960.0,420.9 961.0,420.3 962.0,419.8 963.0,419.3 964.0,418.8 965.0,418.4 966.0,418.1 967.0,417.9 968.0,417.7 969.0,417.5 970.0,417.5 971.0,417.4 972.0,417.4 973.0,417.4 974.0,417.4 975.0,417.4 976.0,417.4 977.0,417.4 978.0,417.5 979.0,417.6 980.0,417.8 981.0,418.0 982.0,418.3 983.0,418.6 984.0,419.1 985.0,419.5 986.0,420.1 987.0,420.6 988.0,421.1 989.0,421.6 990.0,422.1 991.0,422.5 992.0,422.8 993.0,422.9 994.0,423.0 995.0,422.9 996.0,422.8 997.0,422.5 998.0,422.1 999.0,421.6 1000.0,421.1 1001.0,420.6 1002.0,420.1 1003.0,419.5 1004.0,419.1 1005.0,418.6 1006.0,418.3 1007.0,418.0 1008.0,417.8 1009.0,417.6 1010.0,417.5 1011.0,417.4 1012.0,417.4 1013.0,417.4 1014.0,417.4 1015.0,417.4 1016.0,417.4 1017.0,417.4 1018.0,417.5 1019.0,417.5 1020.0,417.7 1021.0,417.9 1022.0,418.1 1023.0,418.4 1024.0,418.8 1025.0,419.3 1026.0,419.8 1027.0,420.3 1028.0,420.9 1029.0,421.4 1030.0,421.9 1031.0,422.3 1032.0,422.6 1033.0,422.9 1034.0,423.0 1035.0,423.0 1036.0,422.9 1037.0,422.6 1038.0,422.3 1039.0,421.9 1040.0,421.4 1041.0,420.9 1042.0,420.3 1043.0,419.8 1044.0,419.3 1045.0,418.8 1046.0,418.4 1047.0,418.1 1048.0,417.9 1049.0,417.7 1050.0,417.5 1051.0,417.5 1052.0,417.4 1053.0,417.4 1054.0,417.4 1055.0,417.4 1056.0,417.4 1057.0,417.4 1058.0,417.4 1059.0,417.5 1060.0,417.6 1061.0,417.8 1062.0,418.0 1063.0,418.3 1064.0,418.6 1065.0,419.1 1066.0,419.5 1067.0,420.1 1068.0,420.6 1069.0,421.1 1070.0,421.6 1071.0,422.1 1072.0,422.5 1073.0,422.8 1074.0,422.9 1075.0,423.0 1076.0,422.9 1077.0,422.8 1078.0,422.5 1079.0,422.1 1080.0,421.6 1081.0,421.1 1082.0,420.6 1083.0,420.1 1084.0,419.5 1085.0,419.1 1086.0,418.6 1087.0,418.3 1088.0,418.0 1089.0,417.8 1090.0,417.6 1091.0,417.5 1092.0,417.4 1093.0,417.4 1094.0,417.4 1095.0,417.4 1096.0,417.4 1097.0,417.4 1098.0,417.4 1099.0,417.5 1100.0,417.5 1101.0,417.7 1102.0,417.9 1103.0,418.1 1104.0,418.4 1105.0,418.8 1106.0,419.3 1107.0,419.8 1108.0,420.3 1109.0,420.9 1110.0,421.4 1111.0,421.9 1112.0,422.3 1113.0,422.6 1114.0,422.9 1115.0,423.0 1116.0,423.0 1117.0,422.9 1118.0,422.6 1119.0,422.3 1120.0,421.9 1121.0,421.4 1122.0,420.9 1123.0,420.3 1124.0,419.8 1125.0,419.3 1126.0,418.8 1127.0,418.4 1128.0,418.1 1129.0,417.9 1130.0,417.7 1131.0,417.5 1132.0,417.5 1133.0,417.4 1134.0,417.4 1135.0,417.4 1136.0,417.4 1137.0,417.4 1138.0,417.4 1139.0,417.4 1140.0,417.5 1141.0,417.6" fill="none" stroke="#b3dcc5" stroke-width="1.5" opacity=".65" filter="url(#b05)"/>
<path d="M1131,402.5 L1138,402.5 Q1143,403 1143.5,409 L1143.5,426 L1124,426 Z" fill="#83c29e"/>
<path d="M504.5,466 L1152.5,465.5 L1141,601 Q1140,610.5 1131,610.5 L507.5,611 Z" fill="#c8d1da"/>
<g clip-path="url(#cSide)">
<rect x="500" y="460" width="660" height="160" fill="#000" filter="url(#fSideA)" opacity=".22"/>
</g>
<path d="M504.5,466 L1152.5,465.5 L1141,601 Q1140,610.5 1131,610.5 L507.5,611 Z" fill="url(#pWave)"/>
<path d="M504.5,466 L1152.5,465.5 L1141,601 Q1140,610.5 1131,610.5 L507.5,611 Z" fill="url(#gSideR)"/>
<g fill="none" stroke="#9cc0a3" stroke-width="1.1" opacity=".75" clip-path="url(#cSide)"><path d="M506,497 C530,490 552,478 572,468"/><path d="M506,503 C536,495 560,482 585,469"/><path d="M590,482 C630,480 680,500 712,532"/><path d="M604,488 C650,490 690,512 722,536"/><path d="M622,492 C660,498 695,515 728,530"/><path d="M650,470 C700,500 760,510 830,488 S 900,470 930,468"/><path d="M700,520 C740,525 790,515 835,495"/><path d="M930,500 C990,520 1040,500 1070,470"/><path d="M900,510 C960,535 1030,520 1090,480"/><path d="M1020,530 C1060,525 1100,505 1140,480"/><path d="M560,560 C600,575 640,590 660,608"/><path d="M940,585 C990,580 1040,590 1080,575"/></g>
<path d="M626.5,223.5 L986,223.5 Q994,223.5 1000,229 L1160,384 Q1167.5,392 1162,398 Q1158,402.5 1148,402.5 L622.5,402.5 Z" fill="#dfe7ed"/>
<g clip-path="url(#cKnit)">
<rect x="600" y="200" width="600" height="220" fill="#b8c9c0" filter="url(#fKnitA)" opacity=".3"/>
<g filter="url(#fKnitB)">
<path d="M540,182 L569,197 L598,176 L627,190 L656,169 L685,183 L714,162 L743,176 L772,155 L801,169 L830,148 L859,162 L888,141 L917,155 L946,134 L975,148 L1004,127 L1033,141 L1062,120 L1091,134 L1120,113 L1149,127 L1178,106 L1207,120 L1236,99 M540,190 L569,204 L598,183 L627,197 L656,176 L685,190 L714,169 L743,183 L772,162 L801,176 L830,155 L859,169 L888,148 L917,162 L946,141 L975,155 L1004,134 L1033,148 L1062,127 L1091,141 L1120,120 L1149,134 L1178,113 L1207,128 L1236,106 M540,194 L569,208 L598,187 L627,201 L656,180 L685,194 L714,173 L743,188 L772,166 L801,181 L830,159 L859,174 L888,152 L917,167 L946,145 L975,160 L1004,138 L1033,153 L1062,131 L1091,146 L1120,124 L1149,139 L1178,117 L1207,132 L1236,110 M540,190 L569,205 L598,183 L627,198 L656,176 L685,191 L714,169 L743,184 L772,163 L801,177 L830,156 L859,170 L888,149 L917,163 L946,142 L975,156 L1004,135 L1033,149 L1062,128 L1091,142 L1120,121 L1149,135 L1178,114 L1207,128 L1236,107 M540,206 L569,221 L598,199 L627,214 L656,192 L685,207 L714,185 L743,200 L772,178 L801,193 L830,172 L859,186 L888,165 L917,179 L946,158 L975,172 L1004,151 L1033,165 L1062,144 L1091,158 L1120,137 L1149,151 L1178,130 L1207,144 L1236,123 M540,217 L569,231 L598,210 L627,224 L656,203 L685,217 L714,196 L743,210 L772,189 L801,203 L830,182 L859,196 L888,175 L917,189 L946,168 L975,182 L1004,161 L1033,175 L1062,154 L1091,168 L1120,147 L1149,161 L1178,140 L1207,154 L1236,133 M540,223 L569,238 L598,216 L627,231 L656,209 L685,224 L714,202 L743,217 L772,196 L801,210 L830,189 L859,203 L888,182 L917,196 L946,175 L975,189 L1004,168 L1033,182 L1062,161 L1091,175 L1120,154 L1149,168 L1178,147 L1207,161 L1236,140 M540,240 L569,255 L598,233 L627,248 L656,226 L685,241 L714,219 L743,234 L772,212 L801,227 L830,205 L859,220 L888,198 L917,213 L946,191 L975,206 L1004,184 L1033,199 L1062,177 L1091,192 L1120,170 L1149,185 L1178,163 L1207,178 L1236,157 M540,262 L569,276 L598,255 L627,269 L656,248 L685,262 L714,241 L743,255 L772,234 L801,248 L830,227 L859,242 L888,220 L917,235 L946,213 L975,228 L1004,206 L1033,221 L1062,199 L1091,214 L1120,192 L1149,207 L1178,185 L1207,200 L1236,178 M540,258 L569,273 L598,252 L627,266 L656,245 L685,259 L714,238 L743,252 L772,231 L801,245 L830,224 L859,238 L888,217 L917,231 L946,210 L975,224 L1004,203 L1033,217 L1062,196 L1091,210 L1120,189 L1149,203 L1178,182 L1207,196 L1236,175 M540,266 L569,281 L598,260 L627,274 L656,253 L685,267 L714,246 L743,260 L772,239 L801,253 L830,232 L859,246 L888,225 L917,239 L946,218 L975,232 L1004,211 L1033,225 L1062,204 L1091,218 L1120,197 L1149,211 L1178,190 L1207,204 L1236,183 M540,267 L569,282 L598,260 L627,275 L656,254 L685,268 L714,247 L743,261 L772,240 L801,254 L830,233 L859,247 L888,226 L917,240 L946,219 L975,233 L1004,212 L1033,226 L1062,205 L1091,219 L1120,198 L1149,212 L1178,191 L1207,205 L1236,184 M540,278 L569,293 L598,271 L627,286 L656,264 L685,279 L714,257 L743,272 L772,250 L801,265 L830,243 L859,258 L888,237 L917,251 L946,230 L975,244 L1004,223 L1033,237 L1062,216 L1091,230 L1120,209 L1149,223 L1178,202 L1207,216 L1236,195 M540,286 L569,300 L598,279 L627,293 L656,272 L685,286 L714,265 L743,279 L772,258 L801,272 L830,251 L859,265 L888,244 L917,258 L946,237 L975,252 L1004,230 L1033,245 L1062,223 L1091,238 L1120,216 L1149,231 L1178,209 L1207,224 L1236,202 M540,294 L569,308 L598,287 L627,301 L656,280 L685,294 L714,273 L743,287 L772,266 L801,280 L830,259 L859,273 L888,252 L917,266 L946,245 L975,259 L1004,238 L1033,252 L1062,231 L1091,245 L1120,224 L1149,239 L1178,217 L1207,232 L1236,210 M540,295 L569,310 L598,288 L627,303 L656,281 L685,296 L714,274 L743,289 L772,267 L801,282 L830,260 L859,275 L888,253 L917,268 L946,246 L975,261 L1004,239 L1033,254 L1062,232 L1091,247 L1120,225 L1149,240 L1178,218 L1207,233 L1236,212 M540,304 L569,319 L598,297 L627,312 L656,290 L685,305 L714,283 L743,298 L772,276 L801,291 L830,269 L859,284 L888,262 L917,277 L946,255 L975,270 L1004,248 L1033,263 L1062,241 L1091,256 L1120,234 L1149,249 L1178,227 L1207,242 L1236,221 M540,315 L569,329 L598,308 L627,322 L656,301 L685,315 L714,294 L743,308 L772,287 L801,302 L830,280 L859,295 L888,273 L917,288 L946,266 L975,281 L1004,259 L1033,274 L1062,252 L1091,267 L1120,245 L1149,260 L1178,238 L1207,253 L1236,231 M540,314 L569,328 L598,307 L627,321 L656,300 L685,314 L714,293 L743,307 L772,286 L801,300 L830,279 L859,294 L888,272 L917,287 L946,265 L975,280 L1004,258 L1033,273 L1062,251 L1091,266 L1120,244 L1149,259 L1178,237 L1207,252 L1236,230 M540,334 L569,349 L598,327 L627,342 L656,320 L685,335 L714,313 L743,328 L772,306 L801,321 L830,299 L859,314 L888,292 L917,307 L946,285 L975,300 L1004,278 L1033,293 L1062,271 L1091,286 L1120,264 L1149,279 L1178,257 L1207,272 L1236,250 M540,330 L569,345 L598,323 L627,338 L656,316 L685,331 L714,309 L743,324 L772,302 L801,317 L830,295 L859,310 L888,288 L917,303 L946,281 L975,296 L1004,275 L1033,289 L1062,268 L1091,282 L1120,261 L1149,275 L1178,254 L1207,268 L1236,247 M540,339 L569,354 L598,332 L627,347 L656,325 L685,340 L714,319 L743,333 L772,312 L801,326 L830,305 L859,319 L888,298 L917,312 L946,291 L975,305 L1004,284 L1033,298 L1062,277 L1091,291 L1120,270 L1149,284 L1178,263 L1207,277 L1236,256 M540,347 L569,362 L598,340 L627,355 L656,333 L685,348 L714,326 L743,341 L772,319 L801,334 L830,312 L859,327 L888,305 L917,320 L946,298 L975,313 L1004,291 L1033,306 L1062,285 L1091,299 L1120,278 L1149,292 L1178,271 L1207,285 L1236,264 M540,352 L569,367 L598,345 L627,360 L656,338 L685,353 L714,331 L743,346 L772,325 L801,339 L830,318 L859,332 L888,311 L917,325 L946,304 L975,318 L1004,297 L1033,311 L1062,290 L1091,304 L1120,283 L1149,297 L1178,276 L1207,290 L1236,269 M540,366 L569,381 L598,359 L627,374 L656,352 L685,367 L714,345 L743,360 L772,338 L801,353 L830,331 L859,346 L888,324 L917,339 L946,317 L975,332 L1004,310 L1033,325 L1062,304 L1091,318 L1120,297 L1149,311 L1178,290 L1207,304 L1236,283 M540,364 L569,379 L598,357 L627,372 L656,350 L685,365 L714,343 L743,358 L772,336 L801,351 L830,329 L859,344 L888,322 L917,337 L946,315 L975,330 L1004,308 L1033,323 L1062,301 L1091,316 L1120,295 L1149,309 L1178,288 L1207,302 L1236,281 M540,371 L569,386 L598,364 L627,379 L656,357 L685,372 L714,350 L743,365 L772,343 L801,358 L830,336 L859,351 L888,330 L917,344 L946,323 L975,337 L1004,316 L1033,330 L1062,309 L1091,323 L1120,302 L1149,316 L1178,295 L1207,309 L1236,288 M540,371 L569,386 L598,364 L627,379 L656,357 L685,372 L714,350 L743,365 L772,343 L801,358 L830,336 L859,351 L888,330 L917,344 L946,323 L975,337 L1004,316 L1033,330 L1062,309 L1091,323 L1120,302 L1149,316 L1178,295 L1207,309 L1236,288 M540,385 L569,399 L598,378 L627,392 L656,371 L685,385 L714,364 L743,378 L772,357 L801,371 L830,350 L859,364 L888,343 L917,357 L946,336 L975,350 L1004,329 L1033,343 L1062,322 L1091,336 L1120,315 L1149,329 L1178,308 L1207,323 L1236,301 M540,380 L569,395 L598,373 L627,388 L656,367 L685,381 L714,360 L743,374 L772,353 L801,367 L830,346 L859,360 L888,339 L917,353 L946,332 L975,346 L1004,325 L1033,339 L1062,318 L1091,332 L1120,311 L1149,325 L1178,304 L1207,318 L1236,297 M540,386 L569,401 L598,379 L627,394 L656,372 L685,387 L714,365 L743,380 L772,358 L801,373 L830,351 L859,366 L888,344 L917,359 L946,337 L975,352 L1004,330 L1033,345 L1062,323 L1091,338 L1120,316 L1149,331 L1178,310 L1207,324 L1236,303 M540,397 L569,412 L598,390 L627,405 L656,383 L685,398 L714,376 L743,391 L772,369 L801,384 L830,363 L859,377 L888,356 L917,370 L946,349 L975,363 L1004,342 L1033,356 L1062,335 L1091,349 L1120,328 L1149,342 L1178,321 L1207,335 L1236,314 M540,399 L569,414 L598,392 L627,407 L656,385 L685,400 L714,378 L743,393 L772,371 L801,386 L830,364 L859,379 L888,357 L917,372 L946,350 L975,365 L1004,343 L1033,358 L1062,336 L1091,351 L1120,329 L1149,344 L1178,323 L1207,337 L1236,316 M540,407 L569,421 L598,400 L627,414 L656,393 L685,407 L714,386 L743,400 L772,379 L801,393 L830,372 L859,386 L888,365 L917,379 L946,358 L975,372 L1004,351 L1033,365 L1062,344 L1091,358 L1120,337 L1149,351 L1178,330 L1207,345 L1236,323 M540,423 L569,438 L598,416 L627,431 L656,409 L685,424 L714,402 L743,417 L772,395 L801,410 L830,388 L859,403 L888,382 L917,396 L946,375 L975,389 L1004,368 L1033,382 L1062,361 L1091,375 L1120,354 L1149,368 L1178,347 L1207,361 L1236,340 M540,437 L569,451 L598,430 L627,444 L656,423 L685,437 L714,416 L743,430 L772,409 L801,424 L830,402 L859,417 L888,395 L917,410 L946,388 L975,403 L1004,381 L1033,396 L1062,374 L1091,389 L1120,367 L1149,382 L1178,360 L1207,375 L1236,353 M540,442 L569,457 L598,435 L627,450 L656,428 L685,443 L714,421 L743,436 L772,414 L801,429 L830,407 L859,422 L888,400 L917,415 L946,393 L975,408 L1004,386 L1033,401 L1062,379 L1091,394 L1120,373 L1149,387 L1178,366 L1207,380 L1236,359 M540,445 L569,460 L598,439 L627,453 L656,432 L685,446 L714,425 L743,439 L772,418 L801,432 L830,411 L859,425 L888,404 L917,418 L946,397 L975,411 L1004,390 L1033,404 L1062,383 L1091,397 L1120,376 L1149,390 L1178,369 L1207,383 L1236,362 M540,446 L569,460 L598,439 L627,453 L656,432 L685,446 L714,425 L743,439 L772,418 L801,432 L830,411 L859,425 L888,404 L917,418 L946,397 L975,411 L1004,390 L1033,405 L1062,383 L1091,398 L1120,376 L1149,391 L1178,369 L1207,384 L1236,362 M540,450 L569,465 L598,443 L627,458 L656,436 L685,451 L714,430 L743,444 L772,423 L801,437 L830,416 L859,430 L888,409 L917,423 L946,402 L975,416 L1004,395 L1033,409 L1062,388 L1091,402 L1120,381 L1149,395 L1178,374 L1207,388 L1236,367" stroke="#a9b8b6" stroke-width="1.3" fill="none" opacity=".4"/>
<path d="M540,211 L569,225 L598,204 L627,218 L656,197 L685,211 L714,190 L743,204 L772,183 L801,197 L830,176 L859,191 L888,169 L917,184 L946,162 L975,177 L1004,155 L1033,170 L1062,148 L1091,163 L1120,141 L1149,156 L1178,134 L1207,149 L1236,127 M540,211 L569,225 L598,204 L627,218 L656,197 L685,211 L714,190 L743,204 L772,183 L801,197 L830,176 L859,190 L888,169 L917,183 L946,162 L975,176 L1004,155 L1033,169 L1062,148 L1091,163 L1120,141 L1149,156 L1178,134 L1207,149 L1236,127 M540,215 L569,230 L598,208 L627,223 L656,201 L685,216 L714,194 L743,209 L772,187 L801,202 L830,180 L859,195 L888,173 L917,188 L946,166 L975,181 L1004,159 L1033,174 L1062,153 L1091,167 L1120,146 L1149,160 L1178,139 L1207,153 L1236,132 M540,234 L569,249 L598,227 L627,242 L656,220 L685,235 L714,213 L743,228 L772,206 L801,221 L830,199 L859,214 L888,192 L917,207 L946,185 L975,200 L1004,179 L1033,193 L1062,172 L1091,186 L1120,165 L1149,179 L1178,158 L1207,172 L1236,151 M540,240 L569,254 L598,233 L627,247 L656,226 L685,240 L714,219 L743,233 L772,212 L801,226 L830,205 L859,219 L888,198 L917,212 L946,191 L975,205 L1004,184 L1033,198 L1062,177 L1091,191 L1120,170 L1149,184 L1178,163 L1207,178 L1236,156 M540,242 L569,257 L598,235 L627,250 L656,228 L685,243 L714,222 L743,236 L772,215 L801,229 L830,208 L859,222 L888,201 L917,215 L946,194 L975,208 L1004,187 L1033,201 L1062,180 L1091,194 L1120,173 L1149,187 L1178,166 L1207,180 L1236,159 M540,248 L569,262 L598,241 L627,255 L656,234 L685,248 L714,227 L743,241 L772,220 L801,234 L830,213 L859,227 L888,206 L917,220 L946,199 L975,213 L1004,192 L1033,206 L1062,185 L1091,199 L1120,178 L1149,192 L1178,171 L1207,185 L1236,164 M540,284 L569,299 L598,277 L627,292 L656,270 L685,285 L714,263 L743,278 L772,256 L801,271 L830,250 L859,264 L888,243 L917,257 L946,236 L975,250 L1004,229 L1033,243 L1062,222 L1091,236 L1120,215 L1149,229 L1178,208 L1207,222 L1236,201 M540,287 L569,301 L598,280 L627,294 L656,273 L685,287 L714,266 L743,280 L772,259 L801,273 L830,252 L859,266 L888,245 L917,260 L946,238 L975,253 L1004,231 L1033,246 L1062,224 L1091,239 L1120,217 L1149,232 L1178,210 L1207,225 L1236,203 M540,323 L569,338 L598,316 L627,331 L656,310 L685,324 L714,303 L743,317 L772,296 L801,310 L830,289 L859,303 L888,282 L917,296 L946,275 L975,289 L1004,268 L1033,282 L1062,261 L1091,275 L1120,254 L1149,268 L1178,247 L1207,261 L1236,240 M540,332 L569,346 L598,325 L627,339 L656,318 L685,332 L714,311 L743,325 L772,304 L801,318 L830,297 L859,311 L888,290 L917,304 L946,283 L975,298 L1004,276 L1033,291 L1062,269 L1091,284 L1120,262 L1149,277 L1178,255 L1207,270 L1236,248 M540,340 L569,355 L598,333 L627,348 L656,326 L685,341 L714,319 L743,334 L772,312 L801,327 L830,305 L859,320 L888,298 L917,313 L946,291 L975,306 L1004,284 L1033,299 L1062,277 L1091,292 L1120,271 L1149,285 L1178,264 L1207,278 L1236,257 M540,409 L569,423 L598,402 L627,416 L656,395 L685,409 L714,388 L743,402 L772,381 L801,395 L830,374 L859,389 L888,367 L917,382 L946,360 L975,375 L1004,353 L1033,368 L1062,346 L1091,361 L1120,339 L1149,354 L1178,332 L1207,347 L1236,325 M540,411 L569,425 L598,404 L627,418 L656,397 L685,412 L714,390 L743,405 L772,383 L801,398 L830,376 L859,391 L888,369 L917,384 L946,362 L975,377 L1004,355 L1033,370 L1062,348 L1091,363 L1120,341 L1149,356 L1178,334 L1207,349 L1236,327 M540,422 L569,436 L598,415 L627,429 L656,408 L685,423 L714,401 L743,416 L772,394 L801,409 L830,387 L859,402 L888,380 L917,395 L946,373 L975,388 L1004,366 L1033,381 L1062,359 L1091,374 L1120,352 L1149,367 L1178,345 L1207,360 L1236,338 M540,435 L569,449 L598,428 L627,442 L656,421 L685,435 L714,414 L743,429 L772,407 L801,422 L830,400 L859,415 L888,393 L917,408 L946,386 L975,401 L1004,379 L1033,394 L1062,372 L1091,387 L1120,365 L1149,380 L1178,358 L1207,373 L1236,351" stroke="#8fa69b" stroke-width="1.6" fill="none" opacity=".43"/>
</g>
<path d="M575,218 L558,242 L589,266 L572,290 L603,314 L586,338 L617,362 L600,386 M633,218 L616,242 L647,266 L630,290 L661,314 L644,338 L675,362 L658,386 M691,218 L674,242 L705,266 L688,290 L719,314 L702,338 L733,362 L716,386 M749,218 L732,242 L763,266 L746,290 L777,314 L760,338 L791,362 L774,386 M807,218 L790,242 L821,266 L804,290 L835,314 L818,338 L849,362 L832,386 M865,218 L848,242 L879,266 L862,290 L893,314 L876,338 L907,362 L890,386 M923,218 L906,242 L937,266 L920,290 L951,314 L934,338 L965,362 L948,386 M981,218 L964,242 L995,266 L978,290 L1009,314 L992,338 L1023,362 L1006,386 M1039,218 L1022,242 L1053,266 L1036,290 L1067,314 L1050,338 L1081,362 L1064,386 M1097,218 L1080,242 L1111,266 L1094,290 L1125,314 L1108,338 L1139,362 L1122,386 M1155,218 L1138,242 L1169,266 L1152,290 L1183,314 L1166,338 L1197,362 L1180,386 M1213,218 L1196,242 L1227,266 L1210,290 L1241,314 L1224,338 L1255,362 L1238,386 M1271,218 L1254,242 L1285,266 L1268,290 L1299,314 L1282,338 L1313,362 L1296,386" stroke="#b4c0c8" stroke-width="2.4" fill="none" opacity=".7" filter="url(#b1)"/>
<path d="M575,218 L558,242 L589,266 L572,290 L603,314 L586,338 L617,362 L600,386 M633,218 L616,242 L647,266 L630,290 L661,314 L644,338 L675,362 L658,386 M691,218 L674,242 L705,266 L688,290 L719,314 L702,338 L733,362 L716,386 M749,218 L732,242 L763,266 L746,290 L777,314 L760,338 L791,362 L774,386 M807,218 L790,242 L821,266 L804,290 L835,314 L818,338 L849,362 L832,386 M865,218 L848,242 L879,266 L862,290 L893,314 L876,338 L907,362 L890,386 M923,218 L906,242 L937,266 L920,290 L951,314 L934,338 L965,362 L948,386 M981,218 L964,242 L995,266 L978,290 L1009,314 L992,338 L1023,362 L1006,386 M1039,218 L1022,242 L1053,266 L1036,290 L1067,314 L1050,338 L1081,362 L1064,386 M1097,218 L1080,242 L1111,266 L1094,290 L1125,314 L1108,338 L1139,362 L1122,386 M1155,218 L1138,242 L1169,266 L1152,290 L1183,314 L1166,338 L1197,362 L1180,386 M1213,218 L1196,242 L1227,266 L1210,290 L1241,314 L1224,338 L1255,362 L1238,386 M1271,218 L1254,242 L1285,266 L1268,290 L1299,314 L1282,338 L1313,362 L1296,386" stroke="#f4f8fa" stroke-width="2" fill="none" opacity=".8" filter="url(#b1)" transform="translate(3,1.5)"/>
</g>
<g clip-path="url(#cKnit)"><path d="M622.5,400 L1148,400 Q1157,400 1160.5,396.5 Q1164.5,392 1158.5,385.5 L998.5,230.5 Q993,225.5 986,225.5" fill="none" stroke="#d3d5d7" stroke-width="5"/></g>
<rect x="1037" y="403" width="27" height="18.5" fill="#6a86cf"/>
<rect x="1040.5" y="410.5" width="20" height="4.2" rx=".8" fill="#d9dfea"/>
<rect x="1042" y="411.8" width="7.5" height="1.6" fill="#4b4f5a"/><rect x="1051" y="411.8" width="8" height="1.6" fill="#4b4f5a"/>
<rect x="1041" y="416.6" width="19" height=".9" fill="#a9bce6" opacity=".8"/>
<polyline points="282.0,94.5 444.5,94.5 601.0,286.0" fill="none" stroke="#8797a2" stroke-width="1.15"/>
<circle cx="601" cy="286" r="3.2" fill="#a9b4bb"/>
<polyline points="143.0,144.5 302.5,144.5 465.0,337.0" fill="none" stroke="#8797a2" stroke-width="1.15"/>
<circle cx="465" cy="337" r="3.2" fill="#a9b4bb"/>
<polyline points="133.0,247.0 295.0,247.0 401.0,374.0" fill="none" stroke="#8797a2" stroke-width="1.15"/>
<circle cx="401" cy="374" r="3.2" fill="#a9b4bb"/>
<polyline points="1123.0,179.5 997.5,179.5 942.5,235.5" fill="none" stroke="#8797a2" stroke-width="1.15"/>
<circle cx="942.5" cy="235.5" r="3.2" fill="#a9b4bb"/>
<polyline points="174.0,560.0 261.0,705.0 450.0,705.0" fill="none" stroke="#8797a2" stroke-width="1.15"/>
<circle cx="174" cy="560" r="3.2" fill="#a9b4bb"/>
<polyline points="471.0,594.0 560.0,704.0 802.5,704.0" fill="none" stroke="#8797a2" stroke-width="1.15"/>
<circle cx="471" cy="594" r="3.2" fill="#a9b4bb"/>
<polyline points="340.0,536.0 536.0,779.5 679.5,779.5" fill="none" stroke="#8797a2" stroke-width="1.15"/>
<circle cx="340" cy="536" r="3.2" fill="#a9b4bb"/>
<text x="282.5" y="53" font-size="24" textLength="114.5" lengthAdjust="spacingAndGlyphs" stroke="#111" stroke-width=".35">Ортофом</text>
<text x="403.7" y="53" font-size="24" textLength="12.5" lengthAdjust="spacingAndGlyphs" stroke="#111" stroke-width=".35">с</text>
<text x="422.5" y="53" font-size="24" textLength="128.5" lengthAdjust="spacingAndGlyphs" stroke="#111" stroke-width=".35">зональной</text>
<text x="282.5" y="80.7" font-size="24" textLength="81.0" lengthAdjust="spacingAndGlyphs" stroke="#111" stroke-width=".35">резкой</text>
<text x="373" y="80.7" font-size="24" textLength="13.0" lengthAdjust="spacingAndGlyphs" stroke="#111" stroke-width=".35">6</text>
<text x="393.7" y="80.7" font-size="24" textLength="28.8" lengthAdjust="spacingAndGlyphs" stroke="#111" stroke-width=".35">см</text>
<text x="134.5" y="133" font-size="24" textLength="165.0" lengthAdjust="spacingAndGlyphs" stroke="#111" stroke-width=".35">Термовойлок</text>
<text x="114.5" y="235.5" font-size="24" textLength="109.7" lengthAdjust="spacingAndGlyphs" stroke="#111" stroke-width=".35">EVS1000</text>
<text x="232" y="235.5" font-size="24" textLength="24.2" lengthAdjust="spacingAndGlyphs" stroke="#111" stroke-width=".35">14</text>
<text x="262.5" y="235.5" font-size="24" textLength="28.5" lengthAdjust="spacingAndGlyphs" stroke="#111" stroke-width=".35">см</text>
<text x="994.5" y="169" font-size="24" textLength="116.5" lengthAdjust="spacingAndGlyphs" stroke="#111" stroke-width=".35">Трикотаж</text>
<text x="261" y="695.5" font-size="24" textLength="165.0" lengthAdjust="spacingAndGlyphs" stroke="#111" stroke-width=".35">Термовойлок</text>
<text x="571" y="662" font-size="24" textLength="114.5" lengthAdjust="spacingAndGlyphs" stroke="#111" stroke-width=".35">Ортофом</text>
<text x="692.2" y="662" font-size="24" textLength="12.5" lengthAdjust="spacingAndGlyphs" stroke="#111" stroke-width=".35">с</text>
<text x="711" y="662" font-size="24" textLength="129.0" lengthAdjust="spacingAndGlyphs" stroke="#111" stroke-width=".35">зональной</text>
<text x="571" y="689.6" font-size="24" textLength="81.0" lengthAdjust="spacingAndGlyphs" stroke="#111" stroke-width=".35">резкой</text>
<text x="661.5" y="689.6" font-size="24" textLength="13.0" lengthAdjust="spacingAndGlyphs" stroke="#111" stroke-width=".35">6</text>
<text x="682" y="689.6" font-size="24" textLength="29.0" lengthAdjust="spacingAndGlyphs" stroke="#111" stroke-width=".35">см</text>
<text x="536" y="767" font-size="24" textLength="76.3" lengthAdjust="spacingAndGlyphs" stroke="#111" stroke-width=".35">Короб</text>
<text x="620.5" y="767" font-size="24" textLength="108.9" lengthAdjust="spacingAndGlyphs" stroke="#111" stroke-width=".35">ортофом</text>
</svg></body></html>
